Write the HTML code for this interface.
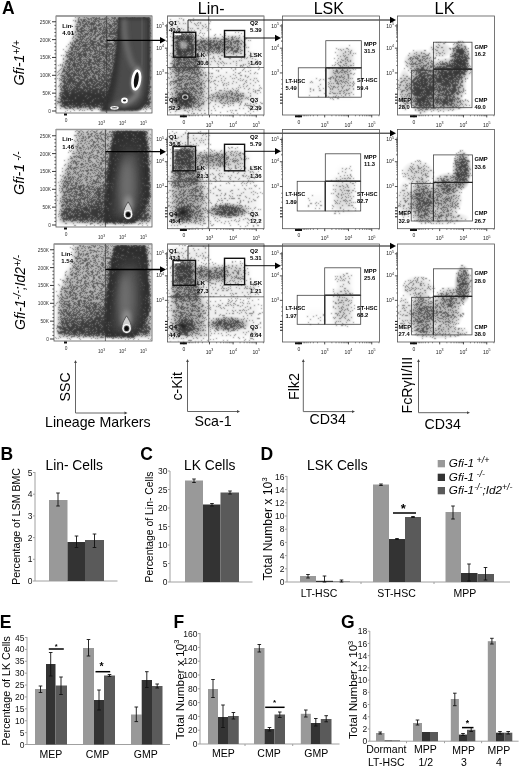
<!DOCTYPE html><html><head><meta charset="utf-8"><style>html,body{margin:0;padding:0;background:#fff;}svg{display:block;}</style></head><body><svg width="520" height="768" viewBox="0 0 520 768" font-family="'Liberation Sans', Arial, sans-serif">
<rect width="520" height="768" fill="#fff"/>
<defs>
<radialGradient id="rg"><stop offset="0" stop-opacity="1"/><stop offset="0.45" stop-opacity="0.9"/><stop offset="0.7" stop-opacity="0.6"/><stop offset="0.88" stop-opacity="0.25"/><stop offset="1" stop-opacity="0"/></radialGradient>
<radialGradient id="rgf"><stop offset="0" stop-opacity="1"/><stop offset="0.6" stop-opacity="0.9"/><stop offset="0.85" stop-opacity="0.4"/><stop offset="1" stop-opacity="0"/></radialGradient>
<filter id="sp" x="0" y="0" width="520" height="360" filterUnits="userSpaceOnUse" color-interpolation-filters="sRGB">
  <feTurbulence type="fractalNoise" baseFrequency="1.4" numOctaves="1" seed="7" result="t"/>
  <feColorMatrix in="t" type="matrix" values="0 0 0 0 0  0 0 0 0 0  0 0 0 0 0  3 0 0 0 -1" result="n"/>
  <feComposite in="SourceAlpha" in2="n" operator="arithmetic" k1="0" k2="1" k3="-1" k4="0.49" result="d"/>
  <feColorMatrix in="d" type="matrix" values="0 0 0 0 0  0 0 0 0 0  0 0 0 0 0  0 0 0 1 0" result="d2"/>
  <feComponentTransfer in="d2" result="d3"><feFuncA type="discrete" tableValues="0 0.56"/></feComponentTransfer>
  <feColorMatrix in="SourceAlpha" type="matrix" values="0 0 0 0 0  0 0 0 0 0  0 0 0 0 0  0 0 0 0.6 0" result="sm"/>
  <feMerge result="m"><feMergeNode in="sm"/><feMergeNode in="d3"/></feMerge>
  <feConvolveMatrix in="m" order="3" kernelMatrix="1 2 1 2 10 2 1 2 1" divisor="22" edgeMode="none"/>
</filter>
<filter id="b0" x="-50%" y="-50%" width="200%" height="200%"><feGaussianBlur stdDeviation="0.5"/></filter>
<filter id="b1" x="-50%" y="-50%" width="200%" height="200%"><feGaussianBlur stdDeviation="1"/></filter>
<filter id="b2" x="-50%" y="-50%" width="200%" height="200%"><feGaussianBlur stdDeviation="2"/></filter>
<filter id="b3" x="-50%" y="-50%" width="200%" height="200%"><feGaussianBlur stdDeviation="3.5"/></filter>
<linearGradient id="lgv" x1="0" y1="0" x2="0" y2="1"><stop offset="0" stop-opacity="0.54"/><stop offset="0.5" stop-opacity="0.6"/><stop offset="0.75" stop-opacity="0.68"/><stop offset="0.88" stop-opacity="0.9"/><stop offset="1" stop-opacity="0.88"/></linearGradient>
<linearGradient id="lgv2" x1="0" y1="0" x2="0" y2="1"><stop offset="0" stop-opacity="0.38"/><stop offset="0.5" stop-opacity="0.45"/><stop offset="0.8" stop-opacity="0.58"/><stop offset="1" stop-opacity="0.75"/></linearGradient>
<linearGradient id="lgd" x1="0" y1="0" x2="0" y2="1"><stop offset="0" stop-color="#2a2a2a"/><stop offset="0.5" stop-color="#3a3a3a"/><stop offset="1" stop-color="#444"/></linearGradient>
</defs>
<clipPath id="c1"><rect x="56.5" y="16.8" width="95" height="95.7"/></clipPath><g clip-path="url(#c1)">
<g filter="url(#sp)">
<path d="M77,16 L151,16 L151,107.5 L60,107.5 L61,72 L67,52 L74,37 Z" fill="url(#lgv)" filter="url(#b2)"/>
<ellipse cx="86" cy="101" rx="34" ry="10" fill="url(#rg)" fill-opacity="0.5"/>
</g>
<path d="M118,17 L150.5,17 L150.5,74 C149,96 146,107 138,111 L100,111.5 C106,99 115,78 118,17 Z" fill="#333" filter="url(#b1)"/>
<path d="M122,19 L147,19 L147,76 C146,96 142,105 134,107 L110,108 C114,97 120,78 122,19 Z" fill="#4c4c4c" filter="url(#b2)"/>
<path d="M124,19 C124,41 128,56 134,68" stroke="#6c6c6c" stroke-width="5" fill="none" filter="url(#b2)"/>
<path d="M142,19 C142,36 143,51 142,66" stroke="#5a5a5a" stroke-width="4" fill="none" filter="url(#b2)"/>
<path d="M137,66 C138,76 139,84 137,94 C134,100 128,102 122,105" stroke="#808080" stroke-width="5" fill="none" filter="url(#b2)"/>
<path d="M110,108 C115,106 120,104 126,99" stroke="#6a6a6a" stroke-width="4" fill="none" filter="url(#b2)"/>
<ellipse cx="136.3" cy="80" rx="5.6" ry="12.5" fill="#888" filter="url(#b1)" transform="rotate(8 136.3 80)"/>
<ellipse cx="136.3" cy="80" rx="3.6" ry="9.4" fill="#111" stroke="#fff" stroke-width="2.6" transform="rotate(8 136.3 80)"/>
<ellipse cx="124.5" cy="100.5" rx="2.5" ry="2" fill="#222" stroke="#fff" stroke-width="1.8"/>
<ellipse cx="114.5" cy="107.8" rx="3.6" ry="1.2" fill="#333" stroke="#f4f4f4" stroke-width="1.4"/>
</g>
<rect x="56" y="16" width="96" height="97" fill="none" stroke="#555" stroke-width="0.8"/>
<line x1="56" y1="16" x2="152" y2="16" stroke="#999" stroke-width="1.6"/>
<line x1="106.7" y1="16" x2="106.7" y2="113" stroke="#333" stroke-width="0.7"/>
<line x1="106.7" y1="40.3" x2="161" y2="40.3" stroke="#000" stroke-width="1.3"/>
<path d="M160,37.099999999999994 L166,40.3 L160,43.5 Z" fill="#000"/>
<text x="62.3" y="27.5" font-size="6" font-weight="bold">Lin-</text>
<text x="62.3" y="35.3" font-size="6" font-weight="bold">4.01</text>
<line x1="52" y1="111.0" x2="56" y2="111.0" stroke="#222" stroke-width="0.9"/>
<text x="51" y="112.9" font-size="4.8" text-anchor="end" fill="#333">0</text>
<line x1="54.4" y1="107.43" x2="56" y2="107.43" stroke="#333" stroke-width="0.8"/>
<line x1="54.4" y1="103.86" x2="56" y2="103.86" stroke="#333" stroke-width="0.8"/>
<line x1="54.4" y1="100.28999999999999" x2="56" y2="100.28999999999999" stroke="#333" stroke-width="0.8"/>
<line x1="54.4" y1="96.72" x2="56" y2="96.72" stroke="#333" stroke-width="0.8"/>
<line x1="52" y1="93.15" x2="56" y2="93.15" stroke="#222" stroke-width="0.9"/>
<text x="51" y="95.05000000000001" font-size="4.8" text-anchor="end" fill="#333">50K</text>
<line x1="54.4" y1="89.58000000000001" x2="56" y2="89.58000000000001" stroke="#333" stroke-width="0.8"/>
<line x1="54.4" y1="86.01" x2="56" y2="86.01" stroke="#333" stroke-width="0.8"/>
<line x1="54.4" y1="82.44" x2="56" y2="82.44" stroke="#333" stroke-width="0.8"/>
<line x1="54.4" y1="78.87" x2="56" y2="78.87" stroke="#333" stroke-width="0.8"/>
<line x1="52" y1="75.3" x2="56" y2="75.3" stroke="#222" stroke-width="0.9"/>
<text x="51" y="77.2" font-size="4.8" text-anchor="end" fill="#333">100K</text>
<line x1="54.4" y1="71.72999999999999" x2="56" y2="71.72999999999999" stroke="#333" stroke-width="0.8"/>
<line x1="54.4" y1="68.16" x2="56" y2="68.16" stroke="#333" stroke-width="0.8"/>
<line x1="54.4" y1="64.59" x2="56" y2="64.59" stroke="#333" stroke-width="0.8"/>
<line x1="54.4" y1="61.019999999999996" x2="56" y2="61.019999999999996" stroke="#333" stroke-width="0.8"/>
<line x1="52" y1="57.449999999999996" x2="56" y2="57.449999999999996" stroke="#222" stroke-width="0.9"/>
<text x="51" y="59.349999999999994" font-size="4.8" text-anchor="end" fill="#333">150K</text>
<line x1="54.4" y1="53.879999999999995" x2="56" y2="53.879999999999995" stroke="#333" stroke-width="0.8"/>
<line x1="54.4" y1="50.309999999999995" x2="56" y2="50.309999999999995" stroke="#333" stroke-width="0.8"/>
<line x1="54.4" y1="46.739999999999995" x2="56" y2="46.739999999999995" stroke="#333" stroke-width="0.8"/>
<line x1="54.4" y1="43.169999999999995" x2="56" y2="43.169999999999995" stroke="#333" stroke-width="0.8"/>
<line x1="52" y1="39.599999999999994" x2="56" y2="39.599999999999994" stroke="#222" stroke-width="0.9"/>
<text x="51" y="41.49999999999999" font-size="4.8" text-anchor="end" fill="#333">200K</text>
<line x1="54.4" y1="36.029999999999994" x2="56" y2="36.029999999999994" stroke="#333" stroke-width="0.8"/>
<line x1="54.4" y1="32.459999999999994" x2="56" y2="32.459999999999994" stroke="#333" stroke-width="0.8"/>
<line x1="54.4" y1="28.889999999999993" x2="56" y2="28.889999999999993" stroke="#333" stroke-width="0.8"/>
<line x1="54.4" y1="25.319999999999993" x2="56" y2="25.319999999999993" stroke="#333" stroke-width="0.8"/>
<line x1="52" y1="21.75" x2="56" y2="21.75" stroke="#222" stroke-width="0.9"/>
<text x="51" y="23.65" font-size="4.8" text-anchor="end" fill="#333">250K</text>
<text x="66" y="122" font-size="4.8" text-anchor="middle" fill="#333">0</text>
<text x="101.5" y="125" font-size="4.8" text-anchor="middle" fill="#333">10<tspan font-size="3.4" dy="-2.2">3</tspan></text>
<text x="122.5" y="125" font-size="4.8" text-anchor="middle" fill="#333">10<tspan font-size="3.4" dy="-2.2">4</tspan></text>
<text x="143.5" y="125" font-size="4.8" text-anchor="middle" fill="#333">10<tspan font-size="3.4" dy="-2.2">5</tspan></text>
<rect x="64" y="113.5" width="3" height="2" fill="#111"/>
<clipPath id="c2"><rect x="168.0" y="16.8" width="95.5" height="97.7"/></clipPath><g clip-path="url(#c2)">
<g filter="url(#sp)">
<rect x="174.5" y="33.3" width="20.19999999999999" height="22.900000000000006" fill-opacity="0.8" filter="url(#b2)"/>
<rect x="196" y="38.75" width="30" height="14" fill-opacity="0.6" filter="url(#b2)"/>
<rect x="225.5" y="36.75" width="16" height="17" fill-opacity="0.5" filter="url(#b2)"/>
<rect x="238.5" y="39.75" width="10" height="12" fill-opacity="0.15" filter="url(#b2)"/>
<rect x="172" y="55.2" width="28" height="16.299999999999997" fill-opacity="0.6" filter="url(#b2)"/>
<rect x="172" y="69.5" width="32" height="39.5" fill-opacity="0.52" filter="url(#b3)"/>
<ellipse cx="184.5" cy="100" rx="11" ry="10" fill="url(#rg)" fill-opacity="0.75"/>
<ellipse cx="228" cy="97" rx="22" ry="8" fill="url(#rg)" fill-opacity="0.4"/>
<rect x="204" y="71.5" width="54" height="37.5" fill-opacity="0.1" filter="url(#b3)"/>
<rect x="170" y="20" width="38" height="12.299999999999997" fill-opacity="0.12" filter="url(#b2)"/>
<rect x="196" y="53.2" width="60" height="14.299999999999997" fill-opacity="0.12" filter="url(#b2)"/>
</g>
</g>
<g filter="url(#b0)"><ellipse cx="185.2" cy="97" rx="4.8" ry="4.2" fill="#3a3a3a"/>
<ellipse cx="185.2" cy="97" rx="3.3" ry="2.8" fill="#b8b8b8"/>
<ellipse cx="185.2" cy="97.2" rx="1.9" ry="1.6" fill="#2a2a2a"/></g>
<ellipse cx="183.5" cy="45" rx="4" ry="4" fill="#c8c8c8" opacity="0.7" filter="url(#b1)"/>
<rect x="174.5" y="33.6" width="6.5" height="1.6" fill="#fff"/>
<rect x="167.5" y="16" width="96.5" height="99" fill="none" stroke="#555" stroke-width="0.8"/>
<line x1="167.5" y1="16" x2="264" y2="16" stroke="#999" stroke-width="1.2"/>
<line x1="208.7" y1="16" x2="208.7" y2="115" stroke="#444" stroke-width="0.7"/>
<line x1="167.5" y1="67.5" x2="264" y2="67.5" stroke="#444" stroke-width="0.7"/>
<rect x="173.5" y="32.3" width="22.19999999999999" height="24.900000000000006" fill="none" stroke="#111" stroke-width="1.4"/>
<rect x="224.5" y="30.5" width="20.099999999999994" height="26.5" fill="none" stroke="#111" stroke-width="1.4"/>
<line x1="188" y1="32.3" x2="188" y2="20" stroke="#222" stroke-width="0.9"/>
<line x1="188" y1="20" x2="391" y2="20" stroke="#111" stroke-width="1.0"/>
<path d="M390,16.8 L396,20 L390,23.2 Z" fill="#000"/>
<line x1="244.6" y1="38" x2="276" y2="38" stroke="#111" stroke-width="1.0"/>
<path d="M275,34.8 L281,38 L275,41.2 Z" fill="#000"/>
<text x="169" y="25" font-size="6" font-weight="bold">Q1</text>
<text x="169" y="32" font-size="6" font-weight="bold">40.0</text>
<text x="197" y="56.7" font-size="6" font-weight="bold">LK</text>
<text x="197" y="64.7" font-size="6" font-weight="bold">30.6</text>
<text x="250" y="25" font-size="6" font-weight="bold">Q2</text>
<text x="250" y="32" font-size="6" font-weight="bold">5.39</text>
<text x="250" y="56.7" font-size="6" font-weight="bold">LSK</text>
<text x="250" y="64.7" font-size="6" font-weight="bold">1.60</text>
<text x="169" y="102" font-size="6" font-weight="bold">Q4</text>
<text x="169" y="109.5" font-size="6" font-weight="bold">52.2</text>
<text x="250" y="102" font-size="6" font-weight="bold">Q3</text>
<text x="250" y="109.5" font-size="6" font-weight="bold">2.39</text>
<line x1="164.9" y1="25.9" x2="167.5" y2="25.9" stroke="#222" stroke-width="0.8"/>
<text x="163.9" y="27.5" font-size="5.1" text-anchor="end" fill="#222">10<tspan font-size="3.6" dy="-2.4">5</tspan></text>
<line x1="164.9" y1="48.175000000000004" x2="167.5" y2="48.175000000000004" stroke="#222" stroke-width="0.8"/>
<text x="163.9" y="49.775000000000006" font-size="5.1" text-anchor="end" fill="#222">10<tspan font-size="3.6" dy="-2.4">4</tspan></text>
<line x1="164.9" y1="72.925" x2="167.5" y2="72.925" stroke="#222" stroke-width="0.8"/>
<text x="163.9" y="74.52499999999999" font-size="5.1" text-anchor="end" fill="#222">10<tspan font-size="3.6" dy="-2.4">3</tspan></text>
<line x1="166.1" y1="41.46955684658482" x2="167.5" y2="41.46955684658482" stroke="#444" stroke-width="0.6"/>
<line x1="166.1" y1="37.547124051119525" x2="167.5" y2="37.547124051119525" stroke="#444" stroke-width="0.6"/>
<line x1="166.1" y1="34.76411369316964" x2="167.5" y2="34.76411369316964" stroke="#444" stroke-width="0.6"/>
<line x1="166.1" y1="32.60544315341518" x2="167.5" y2="32.60544315341518" stroke="#444" stroke-width="0.6"/>
<line x1="166.1" y1="30.84168089770434" x2="167.5" y2="30.84168089770434" stroke="#444" stroke-width="0.6"/>
<line x1="166.1" y1="29.35044115868243" x2="167.5" y2="29.35044115868243" stroke="#444" stroke-width="0.6"/>
<line x1="166.1" y1="28.058670539754456" x2="167.5" y2="28.058670539754456" stroke="#444" stroke-width="0.6"/>
<line x1="166.1" y1="26.919248102239038" x2="167.5" y2="26.919248102239038" stroke="#444" stroke-width="0.6"/>
<line x1="166.1" y1="65.47450760731647" x2="167.5" y2="65.47450760731647" stroke="#444" stroke-width="0.6"/>
<line x1="166.1" y1="61.116248945688355" x2="167.5" y2="61.116248945688355" stroke="#444" stroke-width="0.6"/>
<line x1="166.1" y1="58.02401521463293" x2="167.5" y2="58.02401521463293" stroke="#444" stroke-width="0.6"/>
<line x1="166.1" y1="55.62549239268354" x2="167.5" y2="55.62549239268354" stroke="#444" stroke-width="0.6"/>
<line x1="166.1" y1="53.665756553004826" x2="167.5" y2="53.665756553004826" stroke="#444" stroke-width="0.6"/>
<line x1="166.1" y1="52.008823509647144" x2="167.5" y2="52.008823509647144" stroke="#444" stroke-width="0.6"/>
<line x1="166.1" y1="50.573522821949396" x2="167.5" y2="50.573522821949396" stroke="#444" stroke-width="0.6"/>
<line x1="166.1" y1="49.30749789137671" x2="167.5" y2="49.30749789137671" stroke="#444" stroke-width="0.6"/>
<line x1="166.1" y1="40.72450760731647" x2="167.5" y2="40.72450760731647" stroke="#444" stroke-width="0.6"/>
<line x1="166.1" y1="36.36624894568836" x2="167.5" y2="36.36624894568836" stroke="#444" stroke-width="0.6"/>
<line x1="166.1" y1="33.27401521463294" x2="167.5" y2="33.27401521463294" stroke="#444" stroke-width="0.6"/>
<line x1="166.1" y1="30.875492392683544" x2="167.5" y2="30.875492392683544" stroke="#444" stroke-width="0.6"/>
<line x1="166.1" y1="28.91575655300483" x2="167.5" y2="28.91575655300483" stroke="#444" stroke-width="0.6"/>
<line x1="166.1" y1="27.258823509647154" x2="167.5" y2="27.258823509647154" stroke="#444" stroke-width="0.6"/>
<line x1="166.1" y1="25.823522821949407" x2="167.5" y2="25.823522821949407" stroke="#444" stroke-width="0.6"/>
<line x1="166.1" y1="24.55749789137672" x2="167.5" y2="24.55749789137672" stroke="#444" stroke-width="0.6"/>
<line x1="166.1" y1="79.6075" x2="167.5" y2="79.6075" stroke="#444" stroke-width="0.6"/>
<line x1="166.1" y1="84.0625" x2="167.5" y2="84.0625" stroke="#444" stroke-width="0.6"/>
<line x1="166.1" y1="88.51749999999998" x2="167.5" y2="88.51749999999998" stroke="#444" stroke-width="0.6"/>
<line x1="165.0" y1="94.21000000000001" x2="167.5" y2="94.21000000000001" stroke="#111" stroke-width="1.0"/>
<line x1="165.0" y1="97.17999999999999" x2="167.5" y2="97.17999999999999" stroke="#111" stroke-width="1.0"/>
<line x1="165.0" y1="100.14999999999999" x2="167.5" y2="100.14999999999999" stroke="#111" stroke-width="1.0"/>
<line x1="165.0" y1="103.12" x2="167.5" y2="103.12" stroke="#111" stroke-width="1.0"/>
<line x1="183.905" y1="115" x2="183.905" y2="117.4" stroke="#222" stroke-width="0.8"/>
<text x="183.905" y="123.5" font-size="5" text-anchor="middle" fill="#222">0</text>
<line x1="209.4775" y1="115" x2="209.4775" y2="117.4" stroke="#222" stroke-width="0.8"/>
<text x="209.4775" y="126.5" font-size="5.1" text-anchor="middle" fill="#222">10<tspan font-size="3.6" dy="-2.4">3</tspan></text>
<line x1="233.12" y1="115" x2="233.12" y2="117.4" stroke="#222" stroke-width="0.8"/>
<text x="233.12" y="126.5" font-size="5.1" text-anchor="middle" fill="#222">10<tspan font-size="3.6" dy="-2.4">4</tspan></text>
<line x1="256.28" y1="115" x2="256.28" y2="117.4" stroke="#222" stroke-width="0.8"/>
<text x="256.28" y="126.5" font-size="5.1" text-anchor="middle" fill="#222">10<tspan font-size="3.6" dy="-2.4">5</tspan></text>
<rect x="179.905" y="115.3" width="7" height="2" fill="#111"/>
<line x1="216.59460167248568" y1="115" x2="216.59460167248568" y2="116.3" stroke="#444" stroke-width="0.6"/>
<line x1="220.75783926470962" y1="115" x2="220.75783926470962" y2="116.3" stroke="#444" stroke-width="0.6"/>
<line x1="223.71170334497134" y1="115" x2="223.71170334497134" y2="116.3" stroke="#444" stroke-width="0.6"/>
<line x1="226.00289832751432" y1="115" x2="226.00289832751432" y2="116.3" stroke="#444" stroke-width="0.6"/>
<line x1="227.8749409371953" y1="115" x2="227.8749409371953" y2="116.3" stroke="#444" stroke-width="0.6"/>
<line x1="229.45773041103706" y1="115" x2="229.45773041103706" y2="116.3" stroke="#444" stroke-width="0.6"/>
<line x1="230.82880501745703" y1="115" x2="230.82880501745703" y2="116.3" stroke="#444" stroke-width="0.6"/>
<line x1="232.03817852941924" y1="115" x2="232.03817852941924" y2="116.3" stroke="#444" stroke-width="0.6"/>
<line x1="240.0918546995778" y1="115" x2="240.0918546995778" y2="116.3" stroke="#444" stroke-width="0.6"/>
<line x1="244.17012825930738" y1="115" x2="244.17012825930738" y2="116.3" stroke="#444" stroke-width="0.6"/>
<line x1="247.06370939915558" y1="115" x2="247.06370939915558" y2="116.3" stroke="#444" stroke-width="0.6"/>
<line x1="249.30814530042218" y1="115" x2="249.30814530042218" y2="116.3" stroke="#444" stroke-width="0.6"/>
<line x1="251.14198295888517" y1="115" x2="251.14198295888517" y2="116.3" stroke="#444" stroke-width="0.6"/>
<line x1="252.69247060673015" y1="115" x2="252.69247060673015" y2="116.3" stroke="#444" stroke-width="0.6"/>
<line x1="254.0355640987334" y1="115" x2="254.0355640987334" y2="116.3" stroke="#444" stroke-width="0.6"/>
<line x1="255.22025651861475" y1="115" x2="255.22025651861475" y2="116.3" stroke="#444" stroke-width="0.6"/>
<line x1="202.3603983275143" y1="115" x2="202.3603983275143" y2="116.3" stroke="#444" stroke-width="0.6"/>
<line x1="198.19716073529037" y1="115" x2="198.19716073529037" y2="116.3" stroke="#444" stroke-width="0.6"/>
<line x1="195.24329665502864" y1="115" x2="195.24329665502864" y2="116.3" stroke="#444" stroke-width="0.6"/>
<line x1="192.95210167248567" y1="115" x2="192.95210167248567" y2="116.3" stroke="#444" stroke-width="0.6"/>
<line x1="191.08005906280468" y1="115" x2="191.08005906280468" y2="116.3" stroke="#444" stroke-width="0.6"/>
<line x1="189.49726958896292" y1="115" x2="189.49726958896292" y2="116.3" stroke="#444" stroke-width="0.6"/>
<line x1="188.12619498254296" y1="115" x2="188.12619498254296" y2="116.3" stroke="#444" stroke-width="0.6"/>
<line x1="263.39710167248563" y1="115" x2="263.39710167248563" y2="116.3" stroke="#444" stroke-width="0.6"/>
<clipPath id="c3"><rect x="283.0" y="16.8" width="96.0" height="97.7"/></clipPath><g clip-path="url(#c3)">
<g filter="url(#sp)">
<rect x="338" y="49" width="15" height="19" fill-opacity="0.21" filter="url(#b2)"/>
<rect x="343" y="55" width="8" height="14" fill-opacity="0.105" filter="url(#b2)"/>
<rect x="329" y="68" width="23" height="28" fill-opacity="0.27" filter="url(#b2)"/>
<rect x="334" y="67" width="15" height="14" fill-opacity="0.126" filter="url(#b2)"/>
<rect x="309" y="80" width="16" height="16" fill-opacity="0.056" filter="url(#b2)"/>
</g>
</g>
<rect x="282.5" y="16" width="97.0" height="99" fill="none" stroke="#555" stroke-width="0.8"/>
<rect x="325.8" y="40.7" width="35.5" height="27.099999999999994" fill="none" stroke="#444" stroke-width="0.8"/>
<rect x="298.3" y="67.8" width="27.5" height="29.400000000000006" fill="none" stroke="#444" stroke-width="0.8"/>
<rect x="325.8" y="67.8" width="35.5" height="29.400000000000006" fill="none" stroke="#444" stroke-width="0.8"/>
<line x1="325.8" y1="67.8" x2="325.8" y2="97.2" stroke="#333" stroke-width="1.4"/>
<line x1="325.8" y1="67.8" x2="361.3" y2="67.8" stroke="#333" stroke-width="1.4"/>
<text x="364" y="45.7" font-size="5.8" font-weight="bold">MPP</text>
<text x="364" y="53.2" font-size="5.8" font-weight="bold">31.5</text>
<text x="285.5" y="82.8" font-size="5.6" font-weight="bold">LT-HSC</text>
<text x="285.5" y="90.3" font-size="5.8" font-weight="bold">5.49</text>
<text x="357" y="82.3" font-size="5.6" font-weight="bold">ST-HSC</text>
<text x="357" y="89.8" font-size="5.8" font-weight="bold">59.4</text>
<line x1="279.9" y1="25.9" x2="282.5" y2="25.9" stroke="#222" stroke-width="0.8"/>
<text x="278.9" y="27.5" font-size="5.1" text-anchor="end" fill="#222">10<tspan font-size="3.6" dy="-2.4">5</tspan></text>
<line x1="279.9" y1="48.175000000000004" x2="282.5" y2="48.175000000000004" stroke="#222" stroke-width="0.8"/>
<text x="278.9" y="49.775000000000006" font-size="5.1" text-anchor="end" fill="#222">10<tspan font-size="3.6" dy="-2.4">4</tspan></text>
<line x1="279.9" y1="72.925" x2="282.5" y2="72.925" stroke="#222" stroke-width="0.8"/>
<text x="278.9" y="74.52499999999999" font-size="5.1" text-anchor="end" fill="#222">10<tspan font-size="3.6" dy="-2.4">3</tspan></text>
<line x1="281.1" y1="41.46955684658482" x2="282.5" y2="41.46955684658482" stroke="#444" stroke-width="0.6"/>
<line x1="281.1" y1="37.547124051119525" x2="282.5" y2="37.547124051119525" stroke="#444" stroke-width="0.6"/>
<line x1="281.1" y1="34.76411369316964" x2="282.5" y2="34.76411369316964" stroke="#444" stroke-width="0.6"/>
<line x1="281.1" y1="32.60544315341518" x2="282.5" y2="32.60544315341518" stroke="#444" stroke-width="0.6"/>
<line x1="281.1" y1="30.84168089770434" x2="282.5" y2="30.84168089770434" stroke="#444" stroke-width="0.6"/>
<line x1="281.1" y1="29.35044115868243" x2="282.5" y2="29.35044115868243" stroke="#444" stroke-width="0.6"/>
<line x1="281.1" y1="28.058670539754456" x2="282.5" y2="28.058670539754456" stroke="#444" stroke-width="0.6"/>
<line x1="281.1" y1="26.919248102239038" x2="282.5" y2="26.919248102239038" stroke="#444" stroke-width="0.6"/>
<line x1="281.1" y1="65.47450760731647" x2="282.5" y2="65.47450760731647" stroke="#444" stroke-width="0.6"/>
<line x1="281.1" y1="61.116248945688355" x2="282.5" y2="61.116248945688355" stroke="#444" stroke-width="0.6"/>
<line x1="281.1" y1="58.02401521463293" x2="282.5" y2="58.02401521463293" stroke="#444" stroke-width="0.6"/>
<line x1="281.1" y1="55.62549239268354" x2="282.5" y2="55.62549239268354" stroke="#444" stroke-width="0.6"/>
<line x1="281.1" y1="53.665756553004826" x2="282.5" y2="53.665756553004826" stroke="#444" stroke-width="0.6"/>
<line x1="281.1" y1="52.008823509647144" x2="282.5" y2="52.008823509647144" stroke="#444" stroke-width="0.6"/>
<line x1="281.1" y1="50.573522821949396" x2="282.5" y2="50.573522821949396" stroke="#444" stroke-width="0.6"/>
<line x1="281.1" y1="49.30749789137671" x2="282.5" y2="49.30749789137671" stroke="#444" stroke-width="0.6"/>
<line x1="281.1" y1="40.72450760731647" x2="282.5" y2="40.72450760731647" stroke="#444" stroke-width="0.6"/>
<line x1="281.1" y1="36.36624894568836" x2="282.5" y2="36.36624894568836" stroke="#444" stroke-width="0.6"/>
<line x1="281.1" y1="33.27401521463294" x2="282.5" y2="33.27401521463294" stroke="#444" stroke-width="0.6"/>
<line x1="281.1" y1="30.875492392683544" x2="282.5" y2="30.875492392683544" stroke="#444" stroke-width="0.6"/>
<line x1="281.1" y1="28.91575655300483" x2="282.5" y2="28.91575655300483" stroke="#444" stroke-width="0.6"/>
<line x1="281.1" y1="27.258823509647154" x2="282.5" y2="27.258823509647154" stroke="#444" stroke-width="0.6"/>
<line x1="281.1" y1="25.823522821949407" x2="282.5" y2="25.823522821949407" stroke="#444" stroke-width="0.6"/>
<line x1="281.1" y1="24.55749789137672" x2="282.5" y2="24.55749789137672" stroke="#444" stroke-width="0.6"/>
<line x1="281.1" y1="79.6075" x2="282.5" y2="79.6075" stroke="#444" stroke-width="0.6"/>
<line x1="281.1" y1="84.0625" x2="282.5" y2="84.0625" stroke="#444" stroke-width="0.6"/>
<line x1="281.1" y1="88.51749999999998" x2="282.5" y2="88.51749999999998" stroke="#444" stroke-width="0.6"/>
<line x1="280.0" y1="94.21000000000001" x2="282.5" y2="94.21000000000001" stroke="#111" stroke-width="1.0"/>
<line x1="280.0" y1="97.17999999999999" x2="282.5" y2="97.17999999999999" stroke="#111" stroke-width="1.0"/>
<line x1="280.0" y1="100.14999999999999" x2="282.5" y2="100.14999999999999" stroke="#111" stroke-width="1.0"/>
<line x1="280.0" y1="103.12" x2="282.5" y2="103.12" stroke="#111" stroke-width="1.0"/>
<line x1="298.99" y1="115" x2="298.99" y2="117.4" stroke="#222" stroke-width="0.8"/>
<text x="298.99" y="123.5" font-size="5" text-anchor="middle" fill="#222">0</text>
<line x1="324.695" y1="115" x2="324.695" y2="117.4" stroke="#222" stroke-width="0.8"/>
<text x="324.695" y="126.5" font-size="5.1" text-anchor="middle" fill="#222">10<tspan font-size="3.6" dy="-2.4">3</tspan></text>
<line x1="348.46000000000004" y1="115" x2="348.46000000000004" y2="117.4" stroke="#222" stroke-width="0.8"/>
<text x="348.46000000000004" y="126.5" font-size="5.1" text-anchor="middle" fill="#222">10<tspan font-size="3.6" dy="-2.4">4</tspan></text>
<line x1="371.74" y1="115" x2="371.74" y2="117.4" stroke="#222" stroke-width="0.8"/>
<text x="371.74" y="126.5" font-size="5.1" text-anchor="middle" fill="#222">10<tspan font-size="3.6" dy="-2.4">5</tspan></text>
<rect x="294.99" y="115.3" width="7" height="2" fill="#111"/>
<line x1="331.84897784695454" y1="115" x2="331.84897784695454" y2="116.3" stroke="#444" stroke-width="0.6"/>
<line x1="336.0337866184128" y1="115" x2="336.0337866184128" y2="116.3" stroke="#444" stroke-width="0.6"/>
<line x1="339.00295569390903" y1="115" x2="339.00295569390903" y2="116.3" stroke="#444" stroke-width="0.6"/>
<line x1="341.3060221530455" y1="115" x2="341.3060221530455" y2="116.3" stroke="#444" stroke-width="0.6"/>
<line x1="343.1877644653673" y1="115" x2="343.1877644653673" y2="116.3" stroke="#444" stroke-width="0.6"/>
<line x1="344.77875492093887" y1="115" x2="344.77875492093887" y2="116.3" stroke="#444" stroke-width="0.6"/>
<line x1="346.1569335408636" y1="115" x2="346.1569335408636" y2="116.3" stroke="#444" stroke-width="0.6"/>
<line x1="347.3725732368256" y1="115" x2="347.3725732368256" y2="116.3" stroke="#444" stroke-width="0.6"/>
<line x1="355.4679782990575" y1="115" x2="355.4679782990575" y2="116.3" stroke="#444" stroke-width="0.6"/>
<line x1="359.5673828098738" y1="115" x2="359.5673828098738" y2="116.3" stroke="#444" stroke-width="0.6"/>
<line x1="362.475956598115" y1="115" x2="362.475956598115" y2="116.3" stroke="#444" stroke-width="0.6"/>
<line x1="364.73202170094254" y1="115" x2="364.73202170094254" y2="116.3" stroke="#444" stroke-width="0.6"/>
<line x1="366.57536110893125" y1="115" x2="366.57536110893125" y2="116.3" stroke="#444" stroke-width="0.6"/>
<line x1="368.1338823715319" y1="115" x2="368.1338823715319" y2="116.3" stroke="#444" stroke-width="0.6"/>
<line x1="369.48393489717245" y1="115" x2="369.48393489717245" y2="116.3" stroke="#444" stroke-width="0.6"/>
<line x1="370.6747656197475" y1="115" x2="370.6747656197475" y2="116.3" stroke="#444" stroke-width="0.6"/>
<line x1="317.54102215304545" y1="115" x2="317.54102215304545" y2="116.3" stroke="#444" stroke-width="0.6"/>
<line x1="313.35621338158717" y1="115" x2="313.35621338158717" y2="116.3" stroke="#444" stroke-width="0.6"/>
<line x1="310.38704430609096" y1="115" x2="310.38704430609096" y2="116.3" stroke="#444" stroke-width="0.6"/>
<line x1="308.0839778469545" y1="115" x2="308.0839778469545" y2="116.3" stroke="#444" stroke-width="0.6"/>
<line x1="306.2022355346327" y1="115" x2="306.2022355346327" y2="116.3" stroke="#444" stroke-width="0.6"/>
<line x1="304.6112450790611" y1="115" x2="304.6112450790611" y2="116.3" stroke="#444" stroke-width="0.6"/>
<line x1="303.2330664591364" y1="115" x2="303.2330664591364" y2="116.3" stroke="#444" stroke-width="0.6"/>
<line x1="378.89397784695456" y1="115" x2="378.89397784695456" y2="116.3" stroke="#444" stroke-width="0.6"/>
<clipPath id="c4"><rect x="398.0" y="16.8" width="96.0" height="97.7"/></clipPath><g clip-path="url(#c4)">
<g filter="url(#sp)">
<ellipse cx="422" cy="89" rx="15" ry="26" fill="url(#rg)" fill-opacity="0.828"/>
<ellipse cx="446" cy="86" rx="21" ry="24" fill="url(#rg)" fill-opacity="0.713"/>
<ellipse cx="460" cy="60" rx="11" ry="20" fill="url(#rg)" fill-opacity="0.828"/>
<ellipse cx="449" cy="71" rx="24" ry="14" fill="url(#rg)" fill-opacity="0.575"/>
<ellipse cx="420" cy="62" rx="17" ry="13" fill="url(#rg)" fill-opacity="0.437"/>
<ellipse cx="440" cy="104" rx="32" ry="8" fill="url(#rg)" fill-opacity="0.46"/>
<ellipse cx="405" cy="90" rx="8" ry="22" fill="url(#rg)" fill-opacity="0.345"/>
<ellipse cx="440" cy="50" rx="12" ry="9" fill="url(#rg)" fill-opacity="0.23"/>
</g>
</g>
<rect x="397.5" y="16" width="97.0" height="99" fill="none" stroke="#555" stroke-width="0.8"/>
<rect x="433.4" y="42.2" width="38.60000000000002" height="27.0" fill="none" stroke="#444" stroke-width="0.8"/>
<rect x="411.6" y="70.2" width="21.799999999999955" height="37.5" fill="none" stroke="#444" stroke-width="0.8"/>
<rect x="433.4" y="69.2" width="38.60000000000002" height="38.5" fill="none" stroke="#444" stroke-width="0.8"/>
<line x1="433.4" y1="69.2" x2="472" y2="69.2" stroke="#222" stroke-width="1.3"/>
<line x1="433.4" y1="69.2" x2="433.4" y2="107.7" stroke="#333" stroke-width="1.2"/>
<text x="474.5" y="48.7" font-size="5.8" font-weight="bold">GMP</text>
<text x="474.5" y="56.2" font-size="5.8" font-weight="bold">16.2</text>
<text x="398.5" y="101.7" font-size="5.8" font-weight="bold">MEP</text>
<text x="398.5" y="109.2" font-size="5.8" font-weight="bold">28.0</text>
<text x="474.5" y="101.7" font-size="5.8" font-weight="bold">CMP</text>
<text x="474.5" y="109.2" font-size="5.8" font-weight="bold">49.0</text>
<line x1="394.9" y1="25.9" x2="397.5" y2="25.9" stroke="#222" stroke-width="0.8"/>
<text x="393.9" y="27.5" font-size="5.1" text-anchor="end" fill="#222">10<tspan font-size="3.6" dy="-2.4">5</tspan></text>
<line x1="394.9" y1="48.175000000000004" x2="397.5" y2="48.175000000000004" stroke="#222" stroke-width="0.8"/>
<text x="393.9" y="49.775000000000006" font-size="5.1" text-anchor="end" fill="#222">10<tspan font-size="3.6" dy="-2.4">4</tspan></text>
<line x1="394.9" y1="72.925" x2="397.5" y2="72.925" stroke="#222" stroke-width="0.8"/>
<text x="393.9" y="74.52499999999999" font-size="5.1" text-anchor="end" fill="#222">10<tspan font-size="3.6" dy="-2.4">3</tspan></text>
<line x1="396.1" y1="41.46955684658482" x2="397.5" y2="41.46955684658482" stroke="#444" stroke-width="0.6"/>
<line x1="396.1" y1="37.547124051119525" x2="397.5" y2="37.547124051119525" stroke="#444" stroke-width="0.6"/>
<line x1="396.1" y1="34.76411369316964" x2="397.5" y2="34.76411369316964" stroke="#444" stroke-width="0.6"/>
<line x1="396.1" y1="32.60544315341518" x2="397.5" y2="32.60544315341518" stroke="#444" stroke-width="0.6"/>
<line x1="396.1" y1="30.84168089770434" x2="397.5" y2="30.84168089770434" stroke="#444" stroke-width="0.6"/>
<line x1="396.1" y1="29.35044115868243" x2="397.5" y2="29.35044115868243" stroke="#444" stroke-width="0.6"/>
<line x1="396.1" y1="28.058670539754456" x2="397.5" y2="28.058670539754456" stroke="#444" stroke-width="0.6"/>
<line x1="396.1" y1="26.919248102239038" x2="397.5" y2="26.919248102239038" stroke="#444" stroke-width="0.6"/>
<line x1="396.1" y1="65.47450760731647" x2="397.5" y2="65.47450760731647" stroke="#444" stroke-width="0.6"/>
<line x1="396.1" y1="61.116248945688355" x2="397.5" y2="61.116248945688355" stroke="#444" stroke-width="0.6"/>
<line x1="396.1" y1="58.02401521463293" x2="397.5" y2="58.02401521463293" stroke="#444" stroke-width="0.6"/>
<line x1="396.1" y1="55.62549239268354" x2="397.5" y2="55.62549239268354" stroke="#444" stroke-width="0.6"/>
<line x1="396.1" y1="53.665756553004826" x2="397.5" y2="53.665756553004826" stroke="#444" stroke-width="0.6"/>
<line x1="396.1" y1="52.008823509647144" x2="397.5" y2="52.008823509647144" stroke="#444" stroke-width="0.6"/>
<line x1="396.1" y1="50.573522821949396" x2="397.5" y2="50.573522821949396" stroke="#444" stroke-width="0.6"/>
<line x1="396.1" y1="49.30749789137671" x2="397.5" y2="49.30749789137671" stroke="#444" stroke-width="0.6"/>
<line x1="396.1" y1="40.72450760731647" x2="397.5" y2="40.72450760731647" stroke="#444" stroke-width="0.6"/>
<line x1="396.1" y1="36.36624894568836" x2="397.5" y2="36.36624894568836" stroke="#444" stroke-width="0.6"/>
<line x1="396.1" y1="33.27401521463294" x2="397.5" y2="33.27401521463294" stroke="#444" stroke-width="0.6"/>
<line x1="396.1" y1="30.875492392683544" x2="397.5" y2="30.875492392683544" stroke="#444" stroke-width="0.6"/>
<line x1="396.1" y1="28.91575655300483" x2="397.5" y2="28.91575655300483" stroke="#444" stroke-width="0.6"/>
<line x1="396.1" y1="27.258823509647154" x2="397.5" y2="27.258823509647154" stroke="#444" stroke-width="0.6"/>
<line x1="396.1" y1="25.823522821949407" x2="397.5" y2="25.823522821949407" stroke="#444" stroke-width="0.6"/>
<line x1="396.1" y1="24.55749789137672" x2="397.5" y2="24.55749789137672" stroke="#444" stroke-width="0.6"/>
<line x1="396.1" y1="79.6075" x2="397.5" y2="79.6075" stroke="#444" stroke-width="0.6"/>
<line x1="396.1" y1="84.0625" x2="397.5" y2="84.0625" stroke="#444" stroke-width="0.6"/>
<line x1="396.1" y1="88.51749999999998" x2="397.5" y2="88.51749999999998" stroke="#444" stroke-width="0.6"/>
<line x1="395.0" y1="94.21000000000001" x2="397.5" y2="94.21000000000001" stroke="#111" stroke-width="1.0"/>
<line x1="395.0" y1="97.17999999999999" x2="397.5" y2="97.17999999999999" stroke="#111" stroke-width="1.0"/>
<line x1="395.0" y1="100.14999999999999" x2="397.5" y2="100.14999999999999" stroke="#111" stroke-width="1.0"/>
<line x1="395.0" y1="103.12" x2="397.5" y2="103.12" stroke="#111" stroke-width="1.0"/>
<line x1="413.99" y1="115" x2="413.99" y2="117.4" stroke="#222" stroke-width="0.8"/>
<text x="413.99" y="123.5" font-size="5" text-anchor="middle" fill="#222">0</text>
<line x1="439.695" y1="115" x2="439.695" y2="117.4" stroke="#222" stroke-width="0.8"/>
<text x="439.695" y="126.5" font-size="5.1" text-anchor="middle" fill="#222">10<tspan font-size="3.6" dy="-2.4">3</tspan></text>
<line x1="463.46000000000004" y1="115" x2="463.46000000000004" y2="117.4" stroke="#222" stroke-width="0.8"/>
<text x="463.46000000000004" y="126.5" font-size="5.1" text-anchor="middle" fill="#222">10<tspan font-size="3.6" dy="-2.4">4</tspan></text>
<line x1="486.74" y1="115" x2="486.74" y2="117.4" stroke="#222" stroke-width="0.8"/>
<text x="486.74" y="126.5" font-size="5.1" text-anchor="middle" fill="#222">10<tspan font-size="3.6" dy="-2.4">5</tspan></text>
<rect x="409.99" y="115.3" width="7" height="2" fill="#111"/>
<line x1="446.84897784695454" y1="115" x2="446.84897784695454" y2="116.3" stroke="#444" stroke-width="0.6"/>
<line x1="451.0337866184128" y1="115" x2="451.0337866184128" y2="116.3" stroke="#444" stroke-width="0.6"/>
<line x1="454.00295569390903" y1="115" x2="454.00295569390903" y2="116.3" stroke="#444" stroke-width="0.6"/>
<line x1="456.3060221530455" y1="115" x2="456.3060221530455" y2="116.3" stroke="#444" stroke-width="0.6"/>
<line x1="458.1877644653673" y1="115" x2="458.1877644653673" y2="116.3" stroke="#444" stroke-width="0.6"/>
<line x1="459.77875492093887" y1="115" x2="459.77875492093887" y2="116.3" stroke="#444" stroke-width="0.6"/>
<line x1="461.1569335408636" y1="115" x2="461.1569335408636" y2="116.3" stroke="#444" stroke-width="0.6"/>
<line x1="462.3725732368256" y1="115" x2="462.3725732368256" y2="116.3" stroke="#444" stroke-width="0.6"/>
<line x1="470.4679782990575" y1="115" x2="470.4679782990575" y2="116.3" stroke="#444" stroke-width="0.6"/>
<line x1="474.5673828098738" y1="115" x2="474.5673828098738" y2="116.3" stroke="#444" stroke-width="0.6"/>
<line x1="477.475956598115" y1="115" x2="477.475956598115" y2="116.3" stroke="#444" stroke-width="0.6"/>
<line x1="479.73202170094254" y1="115" x2="479.73202170094254" y2="116.3" stroke="#444" stroke-width="0.6"/>
<line x1="481.57536110893125" y1="115" x2="481.57536110893125" y2="116.3" stroke="#444" stroke-width="0.6"/>
<line x1="483.1338823715319" y1="115" x2="483.1338823715319" y2="116.3" stroke="#444" stroke-width="0.6"/>
<line x1="484.48393489717245" y1="115" x2="484.48393489717245" y2="116.3" stroke="#444" stroke-width="0.6"/>
<line x1="485.6747656197475" y1="115" x2="485.6747656197475" y2="116.3" stroke="#444" stroke-width="0.6"/>
<line x1="432.54102215304545" y1="115" x2="432.54102215304545" y2="116.3" stroke="#444" stroke-width="0.6"/>
<line x1="428.35621338158717" y1="115" x2="428.35621338158717" y2="116.3" stroke="#444" stroke-width="0.6"/>
<line x1="425.38704430609096" y1="115" x2="425.38704430609096" y2="116.3" stroke="#444" stroke-width="0.6"/>
<line x1="423.0839778469545" y1="115" x2="423.0839778469545" y2="116.3" stroke="#444" stroke-width="0.6"/>
<line x1="421.2022355346327" y1="115" x2="421.2022355346327" y2="116.3" stroke="#444" stroke-width="0.6"/>
<line x1="419.6112450790611" y1="115" x2="419.6112450790611" y2="116.3" stroke="#444" stroke-width="0.6"/>
<line x1="418.2330664591364" y1="115" x2="418.2330664591364" y2="116.3" stroke="#444" stroke-width="0.6"/>
<line x1="493.89397784695456" y1="115" x2="493.89397784695456" y2="116.3" stroke="#444" stroke-width="0.6"/>
<clipPath id="c5"><rect x="56.5" y="130.3" width="95" height="96.2"/></clipPath><g clip-path="url(#c5)">
<g filter="url(#sp)">
<path d="M77,129.5 L151,129.5 L151,222 L60,222 L61,181.5 L67,163.5 L74,150.5 Z" fill="url(#lgv2)" filter="url(#b2)"/>
<ellipse cx="91" cy="214" rx="30" ry="11" fill="url(#rg)" fill-opacity="0.4"/>
<ellipse cx="102" cy="207" rx="10" ry="22" fill="url(#rg)" fill-opacity="0.35"/>
<path d="M115,130.5 L146,130.5 C149,159.5 150,179.5 149.5,195.5 C148,202 143,218 134,223 L105,223 C105,197 106,179.5 109,161.5 C111,144.5 113,135.5 115,130.5 Z" fill-opacity="0.97" filter="url(#b1)"/>
</g>
<path d="M122,143.5 L139,143.5 C142,169.5 143,189.5 141,204.5 C139,215 134,219 128,219 L112,219 C111,197 113,174.5 122,143.5 Z" fill="#383838" filter="url(#b3)"/>
<path d="M123,153.5 L136,153.5 C139,169.5 139,189.5 137,201.5 C135,213 132,215 128,215 L117,215 C116,197 117,174.5 123,153.5 Z" fill="#555" filter="url(#b3)"/>
<ellipse cx="127.1" cy="185" rx="6" ry="24" fill="#6e6e6e" filter="url(#b3)"/>
<ellipse cx="128.1" cy="204.8" rx="4.5" ry="9" fill="#8c8c8c" filter="url(#b2)"/>
<path d="M128.1,201.8 C130.6,205.8 133.1,209.8 132.9,214.8 C132.7,217.8 130.1,219.4 128.1,219.4 C126.1,219.4 123.5,217.8 123.3,214.8 C123.1,209.8 125.6,205.8 128.1,201.8 Z" fill="#cfcfcf" stroke="#444" stroke-width="0.8" filter="url(#b0)"/>
<ellipse cx="128.1" cy="214.4" rx="4.1" ry="4.5" fill="#fafafa"/>
<ellipse cx="128.1" cy="214.4" rx="2.9" ry="3.2" fill="#777"/>
<ellipse cx="128.1" cy="214.4" rx="2.2" ry="2.5" fill="#0a0a0a"/>
</g>
<rect x="56" y="129.5" width="96" height="97.5" fill="none" stroke="#555" stroke-width="0.8"/>
<line x1="56" y1="129.5" x2="152" y2="129.5" stroke="#999" stroke-width="1.6"/>
<line x1="105.4" y1="129.5" x2="105.4" y2="227" stroke="#333" stroke-width="0.7"/>
<line x1="105.4" y1="151.7" x2="161" y2="151.7" stroke="#000" stroke-width="1.3"/>
<path d="M160,148.5 L166,151.7 L160,154.89999999999998 Z" fill="#000"/>
<text x="62.3" y="141.0" font-size="6" font-weight="bold">Lin-</text>
<text x="62.3" y="148.8" font-size="6" font-weight="bold">1.46</text>
<line x1="52" y1="225.0" x2="56" y2="225.0" stroke="#222" stroke-width="0.9"/>
<text x="51" y="226.9" font-size="4.8" text-anchor="end" fill="#333">0</text>
<line x1="54.4" y1="221.43" x2="56" y2="221.43" stroke="#333" stroke-width="0.8"/>
<line x1="54.4" y1="217.86" x2="56" y2="217.86" stroke="#333" stroke-width="0.8"/>
<line x1="54.4" y1="214.29" x2="56" y2="214.29" stroke="#333" stroke-width="0.8"/>
<line x1="54.4" y1="210.72" x2="56" y2="210.72" stroke="#333" stroke-width="0.8"/>
<line x1="52" y1="207.15" x2="56" y2="207.15" stroke="#222" stroke-width="0.9"/>
<text x="51" y="209.05" font-size="4.8" text-anchor="end" fill="#333">50K</text>
<line x1="54.4" y1="203.58" x2="56" y2="203.58" stroke="#333" stroke-width="0.8"/>
<line x1="54.4" y1="200.01" x2="56" y2="200.01" stroke="#333" stroke-width="0.8"/>
<line x1="54.4" y1="196.44" x2="56" y2="196.44" stroke="#333" stroke-width="0.8"/>
<line x1="54.4" y1="192.87" x2="56" y2="192.87" stroke="#333" stroke-width="0.8"/>
<line x1="52" y1="189.3" x2="56" y2="189.3" stroke="#222" stroke-width="0.9"/>
<text x="51" y="191.20000000000002" font-size="4.8" text-anchor="end" fill="#333">100K</text>
<line x1="54.4" y1="185.73000000000002" x2="56" y2="185.73000000000002" stroke="#333" stroke-width="0.8"/>
<line x1="54.4" y1="182.16000000000003" x2="56" y2="182.16000000000003" stroke="#333" stroke-width="0.8"/>
<line x1="54.4" y1="178.59" x2="56" y2="178.59" stroke="#333" stroke-width="0.8"/>
<line x1="54.4" y1="175.02" x2="56" y2="175.02" stroke="#333" stroke-width="0.8"/>
<line x1="52" y1="171.45" x2="56" y2="171.45" stroke="#222" stroke-width="0.9"/>
<text x="51" y="173.35" font-size="4.8" text-anchor="end" fill="#333">150K</text>
<line x1="54.4" y1="167.88" x2="56" y2="167.88" stroke="#333" stroke-width="0.8"/>
<line x1="54.4" y1="164.31" x2="56" y2="164.31" stroke="#333" stroke-width="0.8"/>
<line x1="54.4" y1="160.73999999999998" x2="56" y2="160.73999999999998" stroke="#333" stroke-width="0.8"/>
<line x1="54.4" y1="157.17" x2="56" y2="157.17" stroke="#333" stroke-width="0.8"/>
<line x1="52" y1="153.6" x2="56" y2="153.6" stroke="#222" stroke-width="0.9"/>
<text x="51" y="155.5" font-size="4.8" text-anchor="end" fill="#333">200K</text>
<line x1="54.4" y1="150.03" x2="56" y2="150.03" stroke="#333" stroke-width="0.8"/>
<line x1="54.4" y1="146.45999999999998" x2="56" y2="146.45999999999998" stroke="#333" stroke-width="0.8"/>
<line x1="54.4" y1="142.89" x2="56" y2="142.89" stroke="#333" stroke-width="0.8"/>
<line x1="54.4" y1="139.32" x2="56" y2="139.32" stroke="#333" stroke-width="0.8"/>
<line x1="52" y1="135.75" x2="56" y2="135.75" stroke="#222" stroke-width="0.9"/>
<text x="51" y="137.65" font-size="4.8" text-anchor="end" fill="#333">250K</text>
<text x="66" y="236" font-size="4.8" text-anchor="middle" fill="#333">0</text>
<text x="101.5" y="239" font-size="4.8" text-anchor="middle" fill="#333">10<tspan font-size="3.4" dy="-2.2">3</tspan></text>
<text x="122.5" y="239" font-size="4.8" text-anchor="middle" fill="#333">10<tspan font-size="3.4" dy="-2.2">4</tspan></text>
<text x="143.5" y="239" font-size="4.8" text-anchor="middle" fill="#333">10<tspan font-size="3.4" dy="-2.2">5</tspan></text>
<rect x="64" y="227.5" width="3" height="2" fill="#111"/>
<clipPath id="c6"><rect x="168.0" y="130.3" width="95.5" height="97.89999999999999"/></clipPath><g clip-path="url(#c6)">
<g filter="url(#sp)">
<rect x="174" y="147.4" width="20.5" height="22.400000000000006" fill-opacity="0.78" filter="url(#b2)"/>
<rect x="196" y="152.60000000000002" width="30" height="14" fill-opacity="0.5" filter="url(#b2)"/>
<rect x="225.5" y="150.60000000000002" width="16" height="17" fill-opacity="0.28" filter="url(#b2)"/>
<rect x="238.5" y="153.60000000000002" width="10" height="12" fill-opacity="0.15" filter="url(#b2)"/>
<rect x="172" y="168.8" width="28" height="16.5" fill-opacity="0.55" filter="url(#b2)"/>
<rect x="172" y="183.3" width="32" height="39.39999999999998" fill-opacity="0.5" filter="url(#b3)"/>
<ellipse cx="184.5" cy="213.7" rx="11" ry="10" fill="url(#rg)" fill-opacity="0.65"/>
<ellipse cx="228" cy="210.7" rx="22" ry="8" fill="url(#rg)" fill-opacity="0.7"/>
<rect x="204" y="185.3" width="54" height="37.39999999999998" fill-opacity="0.1" filter="url(#b3)"/>
<rect x="170" y="133.5" width="38" height="12.900000000000006" fill-opacity="0.12" filter="url(#b2)"/>
<rect x="196" y="166.8" width="60" height="14.5" fill-opacity="0.12" filter="url(#b2)"/>
</g>
</g>
<ellipse cx="183" cy="212.7" rx="3" ry="2.5" fill="#222" filter="url(#b1)"/>
<rect x="174" y="147.70000000000002" width="6.5" height="1.6" fill="#fff"/>
<rect x="167.5" y="129.5" width="96.5" height="99.19999999999999" fill="none" stroke="#555" stroke-width="0.8"/>
<line x1="167.5" y1="129.5" x2="264" y2="129.5" stroke="#999" stroke-width="1.2"/>
<line x1="208.7" y1="129.5" x2="208.7" y2="228.7" stroke="#444" stroke-width="0.7"/>
<line x1="167.5" y1="181.3" x2="264" y2="181.3" stroke="#444" stroke-width="0.7"/>
<rect x="173" y="146.4" width="22.5" height="24.400000000000006" fill="none" stroke="#111" stroke-width="1.4"/>
<rect x="224.5" y="144.3" width="20.099999999999994" height="26.5" fill="none" stroke="#111" stroke-width="1.4"/>
<line x1="188" y1="146.4" x2="188" y2="133.2" stroke="#222" stroke-width="0.9"/>
<line x1="188" y1="133.2" x2="391" y2="133.2" stroke="#111" stroke-width="1.0"/>
<path d="M390,130.0 L396,133.2 L390,136.39999999999998 Z" fill="#000"/>
<line x1="244.6" y1="151.3" x2="276" y2="151.3" stroke="#111" stroke-width="1.0"/>
<path d="M275,148.10000000000002 L281,151.3 L275,154.5 Z" fill="#000"/>
<text x="169" y="138.5" font-size="6" font-weight="bold">Q1</text>
<text x="169" y="145.5" font-size="6" font-weight="bold">36.6</text>
<text x="197" y="170.3" font-size="6" font-weight="bold">LK</text>
<text x="197" y="178.3" font-size="6" font-weight="bold">21.3</text>
<text x="250" y="138.5" font-size="6" font-weight="bold">Q2</text>
<text x="250" y="145.5" font-size="6" font-weight="bold">5.79</text>
<text x="250" y="170.3" font-size="6" font-weight="bold">LSK</text>
<text x="250" y="178.3" font-size="6" font-weight="bold">1.36</text>
<text x="169" y="215.7" font-size="6" font-weight="bold">Q4</text>
<text x="169" y="223.2" font-size="6" font-weight="bold">45.4</text>
<text x="250" y="215.7" font-size="6" font-weight="bold">Q3</text>
<text x="250" y="223.2" font-size="6" font-weight="bold">12.2</text>
<line x1="164.9" y1="139.42" x2="167.5" y2="139.42" stroke="#222" stroke-width="0.8"/>
<text x="163.9" y="141.01999999999998" font-size="5.1" text-anchor="end" fill="#222">10<tspan font-size="3.6" dy="-2.4">5</tspan></text>
<line x1="164.9" y1="161.74" x2="167.5" y2="161.74" stroke="#222" stroke-width="0.8"/>
<text x="163.9" y="163.34" font-size="5.1" text-anchor="end" fill="#222">10<tspan font-size="3.6" dy="-2.4">4</tspan></text>
<line x1="164.9" y1="186.54" x2="167.5" y2="186.54" stroke="#222" stroke-width="0.8"/>
<text x="163.9" y="188.14" font-size="5.1" text-anchor="end" fill="#222">10<tspan font-size="3.6" dy="-2.4">3</tspan></text>
<line x1="166.1" y1="155.02101049677995" x2="167.5" y2="155.02101049677995" stroke="#444" stroke-width="0.6"/>
<line x1="166.1" y1="151.09065359465714" x2="167.5" y2="151.09065359465714" stroke="#444" stroke-width="0.6"/>
<line x1="166.1" y1="148.30202099355986" x2="167.5" y2="148.30202099355986" stroke="#444" stroke-width="0.6"/>
<line x1="166.1" y1="146.13898950322005" x2="167.5" y2="146.13898950322005" stroke="#444" stroke-width="0.6"/>
<line x1="166.1" y1="144.37166409143705" x2="167.5" y2="144.37166409143705" stroke="#444" stroke-width="0.6"/>
<line x1="166.1" y1="142.8774117468818" x2="167.5" y2="142.8774117468818" stroke="#444" stroke-width="0.6"/>
<line x1="166.1" y1="141.5830314903398" x2="167.5" y2="141.5830314903398" stroke="#444" stroke-width="0.6"/>
<line x1="166.1" y1="140.44130718931427" x2="167.5" y2="140.44130718931427" stroke="#444" stroke-width="0.6"/>
<line x1="166.1" y1="179.07445610753325" x2="167.5" y2="179.07445610753325" stroke="#444" stroke-width="0.6"/>
<line x1="166.1" y1="174.70739288295238" x2="167.5" y2="174.70739288295238" stroke="#444" stroke-width="0.6"/>
<line x1="166.1" y1="171.60891221506654" x2="167.5" y2="171.60891221506654" stroke="#444" stroke-width="0.6"/>
<line x1="166.1" y1="169.20554389246672" x2="167.5" y2="169.20554389246672" stroke="#444" stroke-width="0.6"/>
<line x1="166.1" y1="167.24184899048564" x2="167.5" y2="167.24184899048564" stroke="#444" stroke-width="0.6"/>
<line x1="166.1" y1="165.58156860764643" x2="167.5" y2="165.58156860764643" stroke="#444" stroke-width="0.6"/>
<line x1="166.1" y1="164.1433683225998" x2="167.5" y2="164.1433683225998" stroke="#444" stroke-width="0.6"/>
<line x1="166.1" y1="162.87478576590476" x2="167.5" y2="162.87478576590476" stroke="#444" stroke-width="0.6"/>
<line x1="166.1" y1="154.27445610753327" x2="167.5" y2="154.27445610753327" stroke="#444" stroke-width="0.6"/>
<line x1="166.1" y1="149.9073928829524" x2="167.5" y2="149.9073928829524" stroke="#444" stroke-width="0.6"/>
<line x1="166.1" y1="146.80891221506656" x2="167.5" y2="146.80891221506656" stroke="#444" stroke-width="0.6"/>
<line x1="166.1" y1="144.40554389246677" x2="167.5" y2="144.40554389246677" stroke="#444" stroke-width="0.6"/>
<line x1="166.1" y1="142.44184899048565" x2="167.5" y2="142.44184899048565" stroke="#444" stroke-width="0.6"/>
<line x1="166.1" y1="140.78156860764645" x2="167.5" y2="140.78156860764645" stroke="#444" stroke-width="0.6"/>
<line x1="166.1" y1="139.34336832259982" x2="167.5" y2="139.34336832259982" stroke="#444" stroke-width="0.6"/>
<line x1="166.1" y1="138.07478576590478" x2="167.5" y2="138.07478576590478" stroke="#444" stroke-width="0.6"/>
<line x1="166.1" y1="193.236" x2="167.5" y2="193.236" stroke="#444" stroke-width="0.6"/>
<line x1="166.1" y1="197.7" x2="167.5" y2="197.7" stroke="#444" stroke-width="0.6"/>
<line x1="166.1" y1="202.164" x2="167.5" y2="202.164" stroke="#444" stroke-width="0.6"/>
<line x1="165.0" y1="207.868" x2="167.5" y2="207.868" stroke="#111" stroke-width="1.0"/>
<line x1="165.0" y1="210.844" x2="167.5" y2="210.844" stroke="#111" stroke-width="1.0"/>
<line x1="165.0" y1="213.82" x2="167.5" y2="213.82" stroke="#111" stroke-width="1.0"/>
<line x1="165.0" y1="216.796" x2="167.5" y2="216.796" stroke="#111" stroke-width="1.0"/>
<line x1="183.905" y1="228.7" x2="183.905" y2="231.1" stroke="#222" stroke-width="0.8"/>
<text x="183.905" y="237.2" font-size="5" text-anchor="middle" fill="#222">0</text>
<line x1="209.4775" y1="228.7" x2="209.4775" y2="231.1" stroke="#222" stroke-width="0.8"/>
<text x="209.4775" y="240.2" font-size="5.1" text-anchor="middle" fill="#222">10<tspan font-size="3.6" dy="-2.4">3</tspan></text>
<line x1="233.12" y1="228.7" x2="233.12" y2="231.1" stroke="#222" stroke-width="0.8"/>
<text x="233.12" y="240.2" font-size="5.1" text-anchor="middle" fill="#222">10<tspan font-size="3.6" dy="-2.4">4</tspan></text>
<line x1="256.28" y1="228.7" x2="256.28" y2="231.1" stroke="#222" stroke-width="0.8"/>
<text x="256.28" y="240.2" font-size="5.1" text-anchor="middle" fill="#222">10<tspan font-size="3.6" dy="-2.4">5</tspan></text>
<rect x="179.905" y="229.0" width="7" height="2" fill="#111"/>
<line x1="216.59460167248568" y1="228.7" x2="216.59460167248568" y2="230.0" stroke="#444" stroke-width="0.6"/>
<line x1="220.75783926470962" y1="228.7" x2="220.75783926470962" y2="230.0" stroke="#444" stroke-width="0.6"/>
<line x1="223.71170334497134" y1="228.7" x2="223.71170334497134" y2="230.0" stroke="#444" stroke-width="0.6"/>
<line x1="226.00289832751432" y1="228.7" x2="226.00289832751432" y2="230.0" stroke="#444" stroke-width="0.6"/>
<line x1="227.8749409371953" y1="228.7" x2="227.8749409371953" y2="230.0" stroke="#444" stroke-width="0.6"/>
<line x1="229.45773041103706" y1="228.7" x2="229.45773041103706" y2="230.0" stroke="#444" stroke-width="0.6"/>
<line x1="230.82880501745703" y1="228.7" x2="230.82880501745703" y2="230.0" stroke="#444" stroke-width="0.6"/>
<line x1="232.03817852941924" y1="228.7" x2="232.03817852941924" y2="230.0" stroke="#444" stroke-width="0.6"/>
<line x1="240.0918546995778" y1="228.7" x2="240.0918546995778" y2="230.0" stroke="#444" stroke-width="0.6"/>
<line x1="244.17012825930738" y1="228.7" x2="244.17012825930738" y2="230.0" stroke="#444" stroke-width="0.6"/>
<line x1="247.06370939915558" y1="228.7" x2="247.06370939915558" y2="230.0" stroke="#444" stroke-width="0.6"/>
<line x1="249.30814530042218" y1="228.7" x2="249.30814530042218" y2="230.0" stroke="#444" stroke-width="0.6"/>
<line x1="251.14198295888517" y1="228.7" x2="251.14198295888517" y2="230.0" stroke="#444" stroke-width="0.6"/>
<line x1="252.69247060673015" y1="228.7" x2="252.69247060673015" y2="230.0" stroke="#444" stroke-width="0.6"/>
<line x1="254.0355640987334" y1="228.7" x2="254.0355640987334" y2="230.0" stroke="#444" stroke-width="0.6"/>
<line x1="255.22025651861475" y1="228.7" x2="255.22025651861475" y2="230.0" stroke="#444" stroke-width="0.6"/>
<line x1="202.3603983275143" y1="228.7" x2="202.3603983275143" y2="230.0" stroke="#444" stroke-width="0.6"/>
<line x1="198.19716073529037" y1="228.7" x2="198.19716073529037" y2="230.0" stroke="#444" stroke-width="0.6"/>
<line x1="195.24329665502864" y1="228.7" x2="195.24329665502864" y2="230.0" stroke="#444" stroke-width="0.6"/>
<line x1="192.95210167248567" y1="228.7" x2="192.95210167248567" y2="230.0" stroke="#444" stroke-width="0.6"/>
<line x1="191.08005906280468" y1="228.7" x2="191.08005906280468" y2="230.0" stroke="#444" stroke-width="0.6"/>
<line x1="189.49726958896292" y1="228.7" x2="189.49726958896292" y2="230.0" stroke="#444" stroke-width="0.6"/>
<line x1="188.12619498254296" y1="228.7" x2="188.12619498254296" y2="230.0" stroke="#444" stroke-width="0.6"/>
<line x1="263.39710167248563" y1="228.7" x2="263.39710167248563" y2="230.0" stroke="#444" stroke-width="0.6"/>
<clipPath id="c7"><rect x="283.0" y="130.3" width="96.0" height="97.89999999999999"/></clipPath><g clip-path="url(#c7)">
<g filter="url(#sp)">
<rect x="339" y="168" width="12" height="12" fill-opacity="0.08" filter="url(#b2)"/>
<rect x="334" y="178" width="19" height="33" fill-opacity="0.16" filter="url(#b2)"/>
<rect x="338" y="186" width="11" height="20" fill-opacity="0.08" filter="url(#b2)"/>
<rect x="308" y="195" width="16" height="14" fill-opacity="0.03" filter="url(#b2)"/>
</g>
</g>
<rect x="282.5" y="129.5" width="97.0" height="99.19999999999999" fill="none" stroke="#555" stroke-width="0.8"/>
<rect x="325.3" y="153.8" width="35.39999999999998" height="27.5" fill="none" stroke="#444" stroke-width="0.8"/>
<rect x="297.2" y="181.3" width="28.100000000000023" height="29.69999999999999" fill="none" stroke="#444" stroke-width="0.8"/>
<rect x="325.3" y="181.3" width="35.39999999999998" height="29.69999999999999" fill="none" stroke="#444" stroke-width="0.8"/>
<line x1="325.3" y1="181.3" x2="325.3" y2="211" stroke="#333" stroke-width="1.4"/>
<line x1="325.3" y1="181.3" x2="360.7" y2="181.3" stroke="#333" stroke-width="1.4"/>
<text x="364" y="158.8" font-size="5.8" font-weight="bold">MPP</text>
<text x="364" y="166.3" font-size="5.8" font-weight="bold">11.3</text>
<text x="285.5" y="196.3" font-size="5.6" font-weight="bold">LT-HSC</text>
<text x="285.5" y="203.8" font-size="5.8" font-weight="bold">1.89</text>
<text x="357" y="195.8" font-size="5.6" font-weight="bold">ST-HSC</text>
<text x="357" y="203.3" font-size="5.8" font-weight="bold">82.7</text>
<line x1="279.9" y1="139.42" x2="282.5" y2="139.42" stroke="#222" stroke-width="0.8"/>
<text x="278.9" y="141.01999999999998" font-size="5.1" text-anchor="end" fill="#222">10<tspan font-size="3.6" dy="-2.4">5</tspan></text>
<line x1="279.9" y1="161.74" x2="282.5" y2="161.74" stroke="#222" stroke-width="0.8"/>
<text x="278.9" y="163.34" font-size="5.1" text-anchor="end" fill="#222">10<tspan font-size="3.6" dy="-2.4">4</tspan></text>
<line x1="279.9" y1="186.54" x2="282.5" y2="186.54" stroke="#222" stroke-width="0.8"/>
<text x="278.9" y="188.14" font-size="5.1" text-anchor="end" fill="#222">10<tspan font-size="3.6" dy="-2.4">3</tspan></text>
<line x1="281.1" y1="155.02101049677995" x2="282.5" y2="155.02101049677995" stroke="#444" stroke-width="0.6"/>
<line x1="281.1" y1="151.09065359465714" x2="282.5" y2="151.09065359465714" stroke="#444" stroke-width="0.6"/>
<line x1="281.1" y1="148.30202099355986" x2="282.5" y2="148.30202099355986" stroke="#444" stroke-width="0.6"/>
<line x1="281.1" y1="146.13898950322005" x2="282.5" y2="146.13898950322005" stroke="#444" stroke-width="0.6"/>
<line x1="281.1" y1="144.37166409143705" x2="282.5" y2="144.37166409143705" stroke="#444" stroke-width="0.6"/>
<line x1="281.1" y1="142.8774117468818" x2="282.5" y2="142.8774117468818" stroke="#444" stroke-width="0.6"/>
<line x1="281.1" y1="141.5830314903398" x2="282.5" y2="141.5830314903398" stroke="#444" stroke-width="0.6"/>
<line x1="281.1" y1="140.44130718931427" x2="282.5" y2="140.44130718931427" stroke="#444" stroke-width="0.6"/>
<line x1="281.1" y1="179.07445610753325" x2="282.5" y2="179.07445610753325" stroke="#444" stroke-width="0.6"/>
<line x1="281.1" y1="174.70739288295238" x2="282.5" y2="174.70739288295238" stroke="#444" stroke-width="0.6"/>
<line x1="281.1" y1="171.60891221506654" x2="282.5" y2="171.60891221506654" stroke="#444" stroke-width="0.6"/>
<line x1="281.1" y1="169.20554389246672" x2="282.5" y2="169.20554389246672" stroke="#444" stroke-width="0.6"/>
<line x1="281.1" y1="167.24184899048564" x2="282.5" y2="167.24184899048564" stroke="#444" stroke-width="0.6"/>
<line x1="281.1" y1="165.58156860764643" x2="282.5" y2="165.58156860764643" stroke="#444" stroke-width="0.6"/>
<line x1="281.1" y1="164.1433683225998" x2="282.5" y2="164.1433683225998" stroke="#444" stroke-width="0.6"/>
<line x1="281.1" y1="162.87478576590476" x2="282.5" y2="162.87478576590476" stroke="#444" stroke-width="0.6"/>
<line x1="281.1" y1="154.27445610753327" x2="282.5" y2="154.27445610753327" stroke="#444" stroke-width="0.6"/>
<line x1="281.1" y1="149.9073928829524" x2="282.5" y2="149.9073928829524" stroke="#444" stroke-width="0.6"/>
<line x1="281.1" y1="146.80891221506656" x2="282.5" y2="146.80891221506656" stroke="#444" stroke-width="0.6"/>
<line x1="281.1" y1="144.40554389246677" x2="282.5" y2="144.40554389246677" stroke="#444" stroke-width="0.6"/>
<line x1="281.1" y1="142.44184899048565" x2="282.5" y2="142.44184899048565" stroke="#444" stroke-width="0.6"/>
<line x1="281.1" y1="140.78156860764645" x2="282.5" y2="140.78156860764645" stroke="#444" stroke-width="0.6"/>
<line x1="281.1" y1="139.34336832259982" x2="282.5" y2="139.34336832259982" stroke="#444" stroke-width="0.6"/>
<line x1="281.1" y1="138.07478576590478" x2="282.5" y2="138.07478576590478" stroke="#444" stroke-width="0.6"/>
<line x1="281.1" y1="193.236" x2="282.5" y2="193.236" stroke="#444" stroke-width="0.6"/>
<line x1="281.1" y1="197.7" x2="282.5" y2="197.7" stroke="#444" stroke-width="0.6"/>
<line x1="281.1" y1="202.164" x2="282.5" y2="202.164" stroke="#444" stroke-width="0.6"/>
<line x1="280.0" y1="207.868" x2="282.5" y2="207.868" stroke="#111" stroke-width="1.0"/>
<line x1="280.0" y1="210.844" x2="282.5" y2="210.844" stroke="#111" stroke-width="1.0"/>
<line x1="280.0" y1="213.82" x2="282.5" y2="213.82" stroke="#111" stroke-width="1.0"/>
<line x1="280.0" y1="216.796" x2="282.5" y2="216.796" stroke="#111" stroke-width="1.0"/>
<line x1="298.99" y1="228.7" x2="298.99" y2="231.1" stroke="#222" stroke-width="0.8"/>
<text x="298.99" y="237.2" font-size="5" text-anchor="middle" fill="#222">0</text>
<line x1="324.695" y1="228.7" x2="324.695" y2="231.1" stroke="#222" stroke-width="0.8"/>
<text x="324.695" y="240.2" font-size="5.1" text-anchor="middle" fill="#222">10<tspan font-size="3.6" dy="-2.4">3</tspan></text>
<line x1="348.46000000000004" y1="228.7" x2="348.46000000000004" y2="231.1" stroke="#222" stroke-width="0.8"/>
<text x="348.46000000000004" y="240.2" font-size="5.1" text-anchor="middle" fill="#222">10<tspan font-size="3.6" dy="-2.4">4</tspan></text>
<line x1="371.74" y1="228.7" x2="371.74" y2="231.1" stroke="#222" stroke-width="0.8"/>
<text x="371.74" y="240.2" font-size="5.1" text-anchor="middle" fill="#222">10<tspan font-size="3.6" dy="-2.4">5</tspan></text>
<rect x="294.99" y="229.0" width="7" height="2" fill="#111"/>
<line x1="331.84897784695454" y1="228.7" x2="331.84897784695454" y2="230.0" stroke="#444" stroke-width="0.6"/>
<line x1="336.0337866184128" y1="228.7" x2="336.0337866184128" y2="230.0" stroke="#444" stroke-width="0.6"/>
<line x1="339.00295569390903" y1="228.7" x2="339.00295569390903" y2="230.0" stroke="#444" stroke-width="0.6"/>
<line x1="341.3060221530455" y1="228.7" x2="341.3060221530455" y2="230.0" stroke="#444" stroke-width="0.6"/>
<line x1="343.1877644653673" y1="228.7" x2="343.1877644653673" y2="230.0" stroke="#444" stroke-width="0.6"/>
<line x1="344.77875492093887" y1="228.7" x2="344.77875492093887" y2="230.0" stroke="#444" stroke-width="0.6"/>
<line x1="346.1569335408636" y1="228.7" x2="346.1569335408636" y2="230.0" stroke="#444" stroke-width="0.6"/>
<line x1="347.3725732368256" y1="228.7" x2="347.3725732368256" y2="230.0" stroke="#444" stroke-width="0.6"/>
<line x1="355.4679782990575" y1="228.7" x2="355.4679782990575" y2="230.0" stroke="#444" stroke-width="0.6"/>
<line x1="359.5673828098738" y1="228.7" x2="359.5673828098738" y2="230.0" stroke="#444" stroke-width="0.6"/>
<line x1="362.475956598115" y1="228.7" x2="362.475956598115" y2="230.0" stroke="#444" stroke-width="0.6"/>
<line x1="364.73202170094254" y1="228.7" x2="364.73202170094254" y2="230.0" stroke="#444" stroke-width="0.6"/>
<line x1="366.57536110893125" y1="228.7" x2="366.57536110893125" y2="230.0" stroke="#444" stroke-width="0.6"/>
<line x1="368.1338823715319" y1="228.7" x2="368.1338823715319" y2="230.0" stroke="#444" stroke-width="0.6"/>
<line x1="369.48393489717245" y1="228.7" x2="369.48393489717245" y2="230.0" stroke="#444" stroke-width="0.6"/>
<line x1="370.6747656197475" y1="228.7" x2="370.6747656197475" y2="230.0" stroke="#444" stroke-width="0.6"/>
<line x1="317.54102215304545" y1="228.7" x2="317.54102215304545" y2="230.0" stroke="#444" stroke-width="0.6"/>
<line x1="313.35621338158717" y1="228.7" x2="313.35621338158717" y2="230.0" stroke="#444" stroke-width="0.6"/>
<line x1="310.38704430609096" y1="228.7" x2="310.38704430609096" y2="230.0" stroke="#444" stroke-width="0.6"/>
<line x1="308.0839778469545" y1="228.7" x2="308.0839778469545" y2="230.0" stroke="#444" stroke-width="0.6"/>
<line x1="306.2022355346327" y1="228.7" x2="306.2022355346327" y2="230.0" stroke="#444" stroke-width="0.6"/>
<line x1="304.6112450790611" y1="228.7" x2="304.6112450790611" y2="230.0" stroke="#444" stroke-width="0.6"/>
<line x1="303.2330664591364" y1="228.7" x2="303.2330664591364" y2="230.0" stroke="#444" stroke-width="0.6"/>
<line x1="378.89397784695456" y1="228.7" x2="378.89397784695456" y2="230.0" stroke="#444" stroke-width="0.6"/>
<clipPath id="c8"><rect x="398.0" y="130.3" width="96.0" height="97.89999999999999"/></clipPath><g clip-path="url(#c8)">
<g filter="url(#sp)">
<ellipse cx="422" cy="201" rx="14" ry="24" fill="url(#rg)" fill-opacity="0.62"/>
<ellipse cx="444" cy="199" rx="19" ry="21" fill="url(#rg)" fill-opacity="0.46"/>
<ellipse cx="462" cy="170" rx="10" ry="20" fill="url(#rg)" fill-opacity="0.74"/>
<ellipse cx="450" cy="183" rx="19" ry="11" fill="url(#rg)" fill-opacity="0.42"/>
<ellipse cx="418" cy="173" rx="17" ry="13" fill="url(#rg)" fill-opacity="0.26"/>
<ellipse cx="440" cy="218" rx="30" ry="7" fill="url(#rg)" fill-opacity="0.3"/>
<ellipse cx="405" cy="200" rx="8" ry="20" fill="url(#rg)" fill-opacity="0.2"/>
</g>
</g>
<rect x="397.5" y="129.5" width="97.0" height="99.19999999999999" fill="none" stroke="#555" stroke-width="0.8"/>
<rect x="433.4" y="154.9" width="39.10000000000002" height="27.5" fill="none" stroke="#444" stroke-width="0.8"/>
<rect x="411.2" y="183.4" width="22.19999999999999" height="37.599999999999994" fill="none" stroke="#444" stroke-width="0.8"/>
<rect x="433.4" y="182.4" width="39.10000000000002" height="38.599999999999994" fill="none" stroke="#444" stroke-width="0.8"/>
<line x1="433.4" y1="182.4" x2="472.5" y2="182.4" stroke="#222" stroke-width="1.3"/>
<line x1="433.4" y1="182.4" x2="433.4" y2="221" stroke="#333" stroke-width="1.2"/>
<text x="474.5" y="161.4" font-size="5.8" font-weight="bold">GMP</text>
<text x="474.5" y="168.9" font-size="5.8" font-weight="bold">33.6</text>
<text x="398.5" y="215" font-size="5.8" font-weight="bold">MEP</text>
<text x="398.5" y="222.5" font-size="5.8" font-weight="bold">32.9</text>
<text x="474.5" y="215" font-size="5.8" font-weight="bold">CMP</text>
<text x="474.5" y="222.5" font-size="5.8" font-weight="bold">26.7</text>
<line x1="394.9" y1="139.42" x2="397.5" y2="139.42" stroke="#222" stroke-width="0.8"/>
<text x="393.9" y="141.01999999999998" font-size="5.1" text-anchor="end" fill="#222">10<tspan font-size="3.6" dy="-2.4">5</tspan></text>
<line x1="394.9" y1="161.74" x2="397.5" y2="161.74" stroke="#222" stroke-width="0.8"/>
<text x="393.9" y="163.34" font-size="5.1" text-anchor="end" fill="#222">10<tspan font-size="3.6" dy="-2.4">4</tspan></text>
<line x1="394.9" y1="186.54" x2="397.5" y2="186.54" stroke="#222" stroke-width="0.8"/>
<text x="393.9" y="188.14" font-size="5.1" text-anchor="end" fill="#222">10<tspan font-size="3.6" dy="-2.4">3</tspan></text>
<line x1="396.1" y1="155.02101049677995" x2="397.5" y2="155.02101049677995" stroke="#444" stroke-width="0.6"/>
<line x1="396.1" y1="151.09065359465714" x2="397.5" y2="151.09065359465714" stroke="#444" stroke-width="0.6"/>
<line x1="396.1" y1="148.30202099355986" x2="397.5" y2="148.30202099355986" stroke="#444" stroke-width="0.6"/>
<line x1="396.1" y1="146.13898950322005" x2="397.5" y2="146.13898950322005" stroke="#444" stroke-width="0.6"/>
<line x1="396.1" y1="144.37166409143705" x2="397.5" y2="144.37166409143705" stroke="#444" stroke-width="0.6"/>
<line x1="396.1" y1="142.8774117468818" x2="397.5" y2="142.8774117468818" stroke="#444" stroke-width="0.6"/>
<line x1="396.1" y1="141.5830314903398" x2="397.5" y2="141.5830314903398" stroke="#444" stroke-width="0.6"/>
<line x1="396.1" y1="140.44130718931427" x2="397.5" y2="140.44130718931427" stroke="#444" stroke-width="0.6"/>
<line x1="396.1" y1="179.07445610753325" x2="397.5" y2="179.07445610753325" stroke="#444" stroke-width="0.6"/>
<line x1="396.1" y1="174.70739288295238" x2="397.5" y2="174.70739288295238" stroke="#444" stroke-width="0.6"/>
<line x1="396.1" y1="171.60891221506654" x2="397.5" y2="171.60891221506654" stroke="#444" stroke-width="0.6"/>
<line x1="396.1" y1="169.20554389246672" x2="397.5" y2="169.20554389246672" stroke="#444" stroke-width="0.6"/>
<line x1="396.1" y1="167.24184899048564" x2="397.5" y2="167.24184899048564" stroke="#444" stroke-width="0.6"/>
<line x1="396.1" y1="165.58156860764643" x2="397.5" y2="165.58156860764643" stroke="#444" stroke-width="0.6"/>
<line x1="396.1" y1="164.1433683225998" x2="397.5" y2="164.1433683225998" stroke="#444" stroke-width="0.6"/>
<line x1="396.1" y1="162.87478576590476" x2="397.5" y2="162.87478576590476" stroke="#444" stroke-width="0.6"/>
<line x1="396.1" y1="154.27445610753327" x2="397.5" y2="154.27445610753327" stroke="#444" stroke-width="0.6"/>
<line x1="396.1" y1="149.9073928829524" x2="397.5" y2="149.9073928829524" stroke="#444" stroke-width="0.6"/>
<line x1="396.1" y1="146.80891221506656" x2="397.5" y2="146.80891221506656" stroke="#444" stroke-width="0.6"/>
<line x1="396.1" y1="144.40554389246677" x2="397.5" y2="144.40554389246677" stroke="#444" stroke-width="0.6"/>
<line x1="396.1" y1="142.44184899048565" x2="397.5" y2="142.44184899048565" stroke="#444" stroke-width="0.6"/>
<line x1="396.1" y1="140.78156860764645" x2="397.5" y2="140.78156860764645" stroke="#444" stroke-width="0.6"/>
<line x1="396.1" y1="139.34336832259982" x2="397.5" y2="139.34336832259982" stroke="#444" stroke-width="0.6"/>
<line x1="396.1" y1="138.07478576590478" x2="397.5" y2="138.07478576590478" stroke="#444" stroke-width="0.6"/>
<line x1="396.1" y1="193.236" x2="397.5" y2="193.236" stroke="#444" stroke-width="0.6"/>
<line x1="396.1" y1="197.7" x2="397.5" y2="197.7" stroke="#444" stroke-width="0.6"/>
<line x1="396.1" y1="202.164" x2="397.5" y2="202.164" stroke="#444" stroke-width="0.6"/>
<line x1="395.0" y1="207.868" x2="397.5" y2="207.868" stroke="#111" stroke-width="1.0"/>
<line x1="395.0" y1="210.844" x2="397.5" y2="210.844" stroke="#111" stroke-width="1.0"/>
<line x1="395.0" y1="213.82" x2="397.5" y2="213.82" stroke="#111" stroke-width="1.0"/>
<line x1="395.0" y1="216.796" x2="397.5" y2="216.796" stroke="#111" stroke-width="1.0"/>
<line x1="413.99" y1="228.7" x2="413.99" y2="231.1" stroke="#222" stroke-width="0.8"/>
<text x="413.99" y="237.2" font-size="5" text-anchor="middle" fill="#222">0</text>
<line x1="439.695" y1="228.7" x2="439.695" y2="231.1" stroke="#222" stroke-width="0.8"/>
<text x="439.695" y="240.2" font-size="5.1" text-anchor="middle" fill="#222">10<tspan font-size="3.6" dy="-2.4">3</tspan></text>
<line x1="463.46000000000004" y1="228.7" x2="463.46000000000004" y2="231.1" stroke="#222" stroke-width="0.8"/>
<text x="463.46000000000004" y="240.2" font-size="5.1" text-anchor="middle" fill="#222">10<tspan font-size="3.6" dy="-2.4">4</tspan></text>
<line x1="486.74" y1="228.7" x2="486.74" y2="231.1" stroke="#222" stroke-width="0.8"/>
<text x="486.74" y="240.2" font-size="5.1" text-anchor="middle" fill="#222">10<tspan font-size="3.6" dy="-2.4">5</tspan></text>
<rect x="409.99" y="229.0" width="7" height="2" fill="#111"/>
<line x1="446.84897784695454" y1="228.7" x2="446.84897784695454" y2="230.0" stroke="#444" stroke-width="0.6"/>
<line x1="451.0337866184128" y1="228.7" x2="451.0337866184128" y2="230.0" stroke="#444" stroke-width="0.6"/>
<line x1="454.00295569390903" y1="228.7" x2="454.00295569390903" y2="230.0" stroke="#444" stroke-width="0.6"/>
<line x1="456.3060221530455" y1="228.7" x2="456.3060221530455" y2="230.0" stroke="#444" stroke-width="0.6"/>
<line x1="458.1877644653673" y1="228.7" x2="458.1877644653673" y2="230.0" stroke="#444" stroke-width="0.6"/>
<line x1="459.77875492093887" y1="228.7" x2="459.77875492093887" y2="230.0" stroke="#444" stroke-width="0.6"/>
<line x1="461.1569335408636" y1="228.7" x2="461.1569335408636" y2="230.0" stroke="#444" stroke-width="0.6"/>
<line x1="462.3725732368256" y1="228.7" x2="462.3725732368256" y2="230.0" stroke="#444" stroke-width="0.6"/>
<line x1="470.4679782990575" y1="228.7" x2="470.4679782990575" y2="230.0" stroke="#444" stroke-width="0.6"/>
<line x1="474.5673828098738" y1="228.7" x2="474.5673828098738" y2="230.0" stroke="#444" stroke-width="0.6"/>
<line x1="477.475956598115" y1="228.7" x2="477.475956598115" y2="230.0" stroke="#444" stroke-width="0.6"/>
<line x1="479.73202170094254" y1="228.7" x2="479.73202170094254" y2="230.0" stroke="#444" stroke-width="0.6"/>
<line x1="481.57536110893125" y1="228.7" x2="481.57536110893125" y2="230.0" stroke="#444" stroke-width="0.6"/>
<line x1="483.1338823715319" y1="228.7" x2="483.1338823715319" y2="230.0" stroke="#444" stroke-width="0.6"/>
<line x1="484.48393489717245" y1="228.7" x2="484.48393489717245" y2="230.0" stroke="#444" stroke-width="0.6"/>
<line x1="485.6747656197475" y1="228.7" x2="485.6747656197475" y2="230.0" stroke="#444" stroke-width="0.6"/>
<line x1="432.54102215304545" y1="228.7" x2="432.54102215304545" y2="230.0" stroke="#444" stroke-width="0.6"/>
<line x1="428.35621338158717" y1="228.7" x2="428.35621338158717" y2="230.0" stroke="#444" stroke-width="0.6"/>
<line x1="425.38704430609096" y1="228.7" x2="425.38704430609096" y2="230.0" stroke="#444" stroke-width="0.6"/>
<line x1="423.0839778469545" y1="228.7" x2="423.0839778469545" y2="230.0" stroke="#444" stroke-width="0.6"/>
<line x1="421.2022355346327" y1="228.7" x2="421.2022355346327" y2="230.0" stroke="#444" stroke-width="0.6"/>
<line x1="419.6112450790611" y1="228.7" x2="419.6112450790611" y2="230.0" stroke="#444" stroke-width="0.6"/>
<line x1="418.2330664591364" y1="228.7" x2="418.2330664591364" y2="230.0" stroke="#444" stroke-width="0.6"/>
<line x1="493.89397784695456" y1="228.7" x2="493.89397784695456" y2="230.0" stroke="#444" stroke-width="0.6"/>
<clipPath id="c9"><rect x="54.5" y="244.8" width="97" height="95.7"/></clipPath><g clip-path="url(#c9)">
<g filter="url(#sp)">
<path d="M75,244 L151,244 L151,336 L58,336 L59,296 L65,278 L72,265 Z" fill="url(#lgv2)" filter="url(#b2)"/>
<ellipse cx="89" cy="328" rx="30" ry="11" fill="url(#rg)" fill-opacity="0.4"/>
<ellipse cx="100" cy="321" rx="10" ry="22" fill="url(#rg)" fill-opacity="0.35"/>
<path d="M115,245 L146,245 C149,274 150,294 149.5,310 C148,316 143,332 134,337 L105,337 C105,311 106,294 109,276 C111,259 113,250 115,245 Z" fill-opacity="0.97" filter="url(#b1)"/>
</g>
<path d="M122,258 L139,258 C142,284 143,304 141,319 C139,329 134,333 128,333 L112,333 C111,311 113,289 122,258 Z" fill="#383838" filter="url(#b3)"/>
<path d="M123,268 L136,268 C139,284 139,304 137,316 C135,327 132,329 128,329 L117,329 C116,311 117,289 123,268 Z" fill="#555" filter="url(#b3)"/>
<ellipse cx="125.6" cy="299" rx="6" ry="24" fill="#6e6e6e" filter="url(#b3)"/>
<ellipse cx="126.6" cy="318.8" rx="4.5" ry="9" fill="#8c8c8c" filter="url(#b2)"/>
<path d="M126.6,315.8 C129.1,319.8 131.6,323.8 131.4,328.8 C131.2,331.8 128.6,333.40000000000003 126.6,333.40000000000003 C124.6,333.40000000000003 122.0,331.8 121.8,328.8 C121.6,323.8 124.1,319.8 126.6,315.8 Z" fill="#cfcfcf" stroke="#444" stroke-width="0.8" filter="url(#b0)"/>
<ellipse cx="126.6" cy="328.40000000000003" rx="4.1" ry="4.5" fill="#fafafa"/>
<ellipse cx="126.6" cy="328.40000000000003" rx="2.9" ry="3.2" fill="#777"/>
<ellipse cx="126.6" cy="328.40000000000003" rx="2.2" ry="2.5" fill="#0a0a0a"/>
</g>
<rect x="54" y="244" width="98" height="97" fill="none" stroke="#555" stroke-width="0.8"/>
<line x1="54" y1="244" x2="152" y2="244" stroke="#999" stroke-width="1.6"/>
<line x1="105.4" y1="244" x2="105.4" y2="341" stroke="#333" stroke-width="0.7"/>
<line x1="105.4" y1="269.5" x2="161" y2="269.5" stroke="#000" stroke-width="1.3"/>
<path d="M160,266.3 L166,269.5 L160,272.7 Z" fill="#000"/>
<text x="61.3" y="255.5" font-size="6" font-weight="bold">Lin-</text>
<text x="61.3" y="263.3" font-size="6" font-weight="bold">1.54</text>
<line x1="50" y1="339.0" x2="54" y2="339.0" stroke="#222" stroke-width="0.9"/>
<text x="49" y="340.9" font-size="4.8" text-anchor="end" fill="#333">0</text>
<line x1="52.4" y1="335.43" x2="54" y2="335.43" stroke="#333" stroke-width="0.8"/>
<line x1="52.4" y1="331.86" x2="54" y2="331.86" stroke="#333" stroke-width="0.8"/>
<line x1="52.4" y1="328.29" x2="54" y2="328.29" stroke="#333" stroke-width="0.8"/>
<line x1="52.4" y1="324.72" x2="54" y2="324.72" stroke="#333" stroke-width="0.8"/>
<line x1="50" y1="321.15" x2="54" y2="321.15" stroke="#222" stroke-width="0.9"/>
<text x="49" y="323.04999999999995" font-size="4.8" text-anchor="end" fill="#333">50K</text>
<line x1="52.4" y1="317.58" x2="54" y2="317.58" stroke="#333" stroke-width="0.8"/>
<line x1="52.4" y1="314.01" x2="54" y2="314.01" stroke="#333" stroke-width="0.8"/>
<line x1="52.4" y1="310.44" x2="54" y2="310.44" stroke="#333" stroke-width="0.8"/>
<line x1="52.4" y1="306.87" x2="54" y2="306.87" stroke="#333" stroke-width="0.8"/>
<line x1="50" y1="303.3" x2="54" y2="303.3" stroke="#222" stroke-width="0.9"/>
<text x="49" y="305.2" font-size="4.8" text-anchor="end" fill="#333">100K</text>
<line x1="52.4" y1="299.73" x2="54" y2="299.73" stroke="#333" stroke-width="0.8"/>
<line x1="52.4" y1="296.16" x2="54" y2="296.16" stroke="#333" stroke-width="0.8"/>
<line x1="52.4" y1="292.59000000000003" x2="54" y2="292.59000000000003" stroke="#333" stroke-width="0.8"/>
<line x1="52.4" y1="289.02" x2="54" y2="289.02" stroke="#333" stroke-width="0.8"/>
<line x1="50" y1="285.45" x2="54" y2="285.45" stroke="#222" stroke-width="0.9"/>
<text x="49" y="287.34999999999997" font-size="4.8" text-anchor="end" fill="#333">150K</text>
<line x1="52.4" y1="281.88" x2="54" y2="281.88" stroke="#333" stroke-width="0.8"/>
<line x1="52.4" y1="278.31" x2="54" y2="278.31" stroke="#333" stroke-width="0.8"/>
<line x1="52.4" y1="274.74" x2="54" y2="274.74" stroke="#333" stroke-width="0.8"/>
<line x1="52.4" y1="271.16999999999996" x2="54" y2="271.16999999999996" stroke="#333" stroke-width="0.8"/>
<line x1="50" y1="267.6" x2="54" y2="267.6" stroke="#222" stroke-width="0.9"/>
<text x="49" y="269.5" font-size="4.8" text-anchor="end" fill="#333">200K</text>
<line x1="52.4" y1="264.03000000000003" x2="54" y2="264.03000000000003" stroke="#333" stroke-width="0.8"/>
<line x1="52.4" y1="260.46000000000004" x2="54" y2="260.46000000000004" stroke="#333" stroke-width="0.8"/>
<line x1="52.4" y1="256.89000000000004" x2="54" y2="256.89000000000004" stroke="#333" stroke-width="0.8"/>
<line x1="52.4" y1="253.32000000000002" x2="54" y2="253.32000000000002" stroke="#333" stroke-width="0.8"/>
<line x1="50" y1="249.75" x2="54" y2="249.75" stroke="#222" stroke-width="0.9"/>
<text x="49" y="251.65" font-size="4.8" text-anchor="end" fill="#333">250K</text>
<text x="66" y="350" font-size="4.8" text-anchor="middle" fill="#333">0</text>
<text x="101.5" y="353" font-size="4.8" text-anchor="middle" fill="#333">10<tspan font-size="3.4" dy="-2.2">3</tspan></text>
<text x="122.5" y="353" font-size="4.8" text-anchor="middle" fill="#333">10<tspan font-size="3.4" dy="-2.2">4</tspan></text>
<text x="143.5" y="353" font-size="4.8" text-anchor="middle" fill="#333">10<tspan font-size="3.4" dy="-2.2">5</tspan></text>
<rect x="64" y="341.5" width="3" height="2" fill="#111"/>
<clipPath id="c10"><rect x="168.0" y="244.8" width="95.5" height="96.7"/></clipPath><g clip-path="url(#c10)">
<g filter="url(#sp)">
<rect x="174" y="261.4" width="20.5" height="22.900000000000034" fill-opacity="0.8" filter="url(#b2)"/>
<rect x="196" y="266.85" width="30" height="14" fill-opacity="0.55" filter="url(#b2)"/>
<rect x="225.5" y="264.85" width="16" height="17" fill-opacity="0.28" filter="url(#b2)"/>
<rect x="238.5" y="267.85" width="10" height="12" fill-opacity="0.15" filter="url(#b2)"/>
<rect x="172" y="283.3" width="28" height="17.5" fill-opacity="0.55" filter="url(#b2)"/>
<rect x="172" y="298.8" width="32" height="37.19999999999999" fill-opacity="0.5" filter="url(#b3)"/>
<ellipse cx="184.5" cy="327" rx="11" ry="10" fill="url(#rg)" fill-opacity="0.6"/>
<ellipse cx="228" cy="324" rx="22" ry="8" fill="url(#rg)" fill-opacity="0.65"/>
<rect x="204" y="300.8" width="54" height="35.19999999999999" fill-opacity="0.1" filter="url(#b3)"/>
<rect x="170" y="248" width="38" height="12.399999999999977" fill-opacity="0.12" filter="url(#b2)"/>
<rect x="196" y="281.3" width="60" height="15.5" fill-opacity="0.12" filter="url(#b2)"/>
</g>
</g>
<ellipse cx="183" cy="326" rx="3" ry="2.5" fill="#222" filter="url(#b1)"/>
<rect x="174" y="261.7" width="6.5" height="1.6" fill="#fff"/>
<rect x="167.5" y="244" width="96.5" height="98" fill="none" stroke="#555" stroke-width="0.8"/>
<line x1="167.5" y1="244" x2="264" y2="244" stroke="#999" stroke-width="1.2"/>
<line x1="208.7" y1="244" x2="208.7" y2="342" stroke="#444" stroke-width="0.7"/>
<line x1="167.5" y1="296.8" x2="264" y2="296.8" stroke="#444" stroke-width="0.7"/>
<rect x="173" y="260.4" width="22.5" height="24.900000000000034" fill="none" stroke="#111" stroke-width="1.4"/>
<rect x="224.5" y="258.3" width="20.099999999999994" height="26.399999999999977" fill="none" stroke="#111" stroke-width="1.4"/>
<line x1="188" y1="260.4" x2="188" y2="246" stroke="#222" stroke-width="0.9"/>
<line x1="188" y1="246" x2="391" y2="246" stroke="#111" stroke-width="1.0"/>
<path d="M390,242.8 L396,246 L390,249.2 Z" fill="#000"/>
<line x1="244.6" y1="265.7" x2="276" y2="265.7" stroke="#111" stroke-width="1.0"/>
<path d="M275,262.5 L281,265.7 L275,268.9 Z" fill="#000"/>
<text x="169" y="253" font-size="6" font-weight="bold">Q1</text>
<text x="169" y="260" font-size="6" font-weight="bold">43.1</text>
<text x="197" y="284.8" font-size="6" font-weight="bold">LK</text>
<text x="197" y="292.8" font-size="6" font-weight="bold">27.3</text>
<text x="250" y="253" font-size="6" font-weight="bold">Q2</text>
<text x="250" y="260" font-size="6" font-weight="bold">5.31</text>
<text x="250" y="284.8" font-size="6" font-weight="bold">LSK</text>
<text x="250" y="292.8" font-size="6" font-weight="bold">1.21</text>
<text x="169" y="329" font-size="6" font-weight="bold">Q4</text>
<text x="169" y="336.5" font-size="6" font-weight="bold">44.9</text>
<text x="250" y="329" font-size="6" font-weight="bold">Q3</text>
<text x="250" y="336.5" font-size="6" font-weight="bold">6.64</text>
<line x1="164.9" y1="253.8" x2="167.5" y2="253.8" stroke="#222" stroke-width="0.8"/>
<text x="163.9" y="255.4" font-size="5.1" text-anchor="end" fill="#222">10<tspan font-size="3.6" dy="-2.4">5</tspan></text>
<line x1="164.9" y1="275.85" x2="167.5" y2="275.85" stroke="#222" stroke-width="0.8"/>
<text x="163.9" y="277.45000000000005" font-size="5.1" text-anchor="end" fill="#222">10<tspan font-size="3.6" dy="-2.4">4</tspan></text>
<line x1="164.9" y1="300.35" x2="167.5" y2="300.35" stroke="#222" stroke-width="0.8"/>
<text x="163.9" y="301.95000000000005" font-size="5.1" text-anchor="end" fill="#222">10<tspan font-size="3.6" dy="-2.4">3</tspan></text>
<line x1="166.1" y1="269.2122885956092" x2="167.5" y2="269.2122885956092" stroke="#444" stroke-width="0.6"/>
<line x1="166.1" y1="265.32947633343144" x2="167.5" y2="265.32947633343144" stroke="#444" stroke-width="0.6"/>
<line x1="166.1" y1="262.57457719121845" x2="167.5" y2="262.57457719121845" stroke="#444" stroke-width="0.6"/>
<line x1="166.1" y1="260.4377114043908" x2="167.5" y2="260.4377114043908" stroke="#444" stroke-width="0.6"/>
<line x1="166.1" y1="258.6917649290407" x2="167.5" y2="258.6917649290407" stroke="#444" stroke-width="0.6"/>
<line x1="166.1" y1="257.21558821768565" x2="167.5" y2="257.21558821768565" stroke="#444" stroke-width="0.6"/>
<line x1="166.1" y1="255.93686578682767" x2="167.5" y2="255.93686578682767" stroke="#444" stroke-width="0.6"/>
<line x1="166.1" y1="254.8089526668629" x2="167.5" y2="254.8089526668629" stroke="#444" stroke-width="0.6"/>
<line x1="166.1" y1="292.9747651062325" x2="167.5" y2="292.9747651062325" stroke="#444" stroke-width="0.6"/>
<line x1="166.1" y1="288.6605292593683" x2="167.5" y2="288.6605292593683" stroke="#444" stroke-width="0.6"/>
<line x1="166.1" y1="285.59953021246497" x2="167.5" y2="285.59953021246497" stroke="#444" stroke-width="0.6"/>
<line x1="166.1" y1="283.22523489376755" x2="167.5" y2="283.22523489376755" stroke="#444" stroke-width="0.6"/>
<line x1="166.1" y1="281.28529436560075" x2="167.5" y2="281.28529436560075" stroke="#444" stroke-width="0.6"/>
<line x1="166.1" y1="279.64509801965073" x2="167.5" y2="279.64509801965073" stroke="#444" stroke-width="0.6"/>
<line x1="166.1" y1="278.2242953186974" x2="167.5" y2="278.2242953186974" stroke="#444" stroke-width="0.6"/>
<line x1="166.1" y1="276.9710585187366" x2="167.5" y2="276.9710585187366" stroke="#444" stroke-width="0.6"/>
<line x1="166.1" y1="268.4747651062325" x2="167.5" y2="268.4747651062325" stroke="#444" stroke-width="0.6"/>
<line x1="166.1" y1="264.1605292593683" x2="167.5" y2="264.1605292593683" stroke="#444" stroke-width="0.6"/>
<line x1="166.1" y1="261.09953021246497" x2="167.5" y2="261.09953021246497" stroke="#444" stroke-width="0.6"/>
<line x1="166.1" y1="258.72523489376755" x2="167.5" y2="258.72523489376755" stroke="#444" stroke-width="0.6"/>
<line x1="166.1" y1="256.78529436560075" x2="167.5" y2="256.78529436560075" stroke="#444" stroke-width="0.6"/>
<line x1="166.1" y1="255.14509801965073" x2="167.5" y2="255.14509801965073" stroke="#444" stroke-width="0.6"/>
<line x1="166.1" y1="253.72429531869741" x2="167.5" y2="253.72429531869741" stroke="#444" stroke-width="0.6"/>
<line x1="166.1" y1="252.47105851873656" x2="167.5" y2="252.47105851873656" stroke="#444" stroke-width="0.6"/>
<line x1="166.1" y1="306.96500000000003" x2="167.5" y2="306.96500000000003" stroke="#444" stroke-width="0.6"/>
<line x1="166.1" y1="311.375" x2="167.5" y2="311.375" stroke="#444" stroke-width="0.6"/>
<line x1="166.1" y1="315.785" x2="167.5" y2="315.785" stroke="#444" stroke-width="0.6"/>
<line x1="165.0" y1="321.42" x2="167.5" y2="321.42" stroke="#111" stroke-width="1.0"/>
<line x1="165.0" y1="324.36" x2="167.5" y2="324.36" stroke="#111" stroke-width="1.0"/>
<line x1="165.0" y1="327.3" x2="167.5" y2="327.3" stroke="#111" stroke-width="1.0"/>
<line x1="165.0" y1="330.24" x2="167.5" y2="330.24" stroke="#111" stroke-width="1.0"/>
<line x1="183.905" y1="342" x2="183.905" y2="344.4" stroke="#222" stroke-width="0.8"/>
<text x="183.905" y="350.5" font-size="5" text-anchor="middle" fill="#222">0</text>
<line x1="209.4775" y1="342" x2="209.4775" y2="344.4" stroke="#222" stroke-width="0.8"/>
<text x="209.4775" y="353.5" font-size="5.1" text-anchor="middle" fill="#222">10<tspan font-size="3.6" dy="-2.4">3</tspan></text>
<line x1="233.12" y1="342" x2="233.12" y2="344.4" stroke="#222" stroke-width="0.8"/>
<text x="233.12" y="353.5" font-size="5.1" text-anchor="middle" fill="#222">10<tspan font-size="3.6" dy="-2.4">4</tspan></text>
<line x1="256.28" y1="342" x2="256.28" y2="344.4" stroke="#222" stroke-width="0.8"/>
<text x="256.28" y="353.5" font-size="5.1" text-anchor="middle" fill="#222">10<tspan font-size="3.6" dy="-2.4">5</tspan></text>
<rect x="179.905" y="342.3" width="7" height="2" fill="#111"/>
<line x1="216.59460167248568" y1="342" x2="216.59460167248568" y2="343.3" stroke="#444" stroke-width="0.6"/>
<line x1="220.75783926470962" y1="342" x2="220.75783926470962" y2="343.3" stroke="#444" stroke-width="0.6"/>
<line x1="223.71170334497134" y1="342" x2="223.71170334497134" y2="343.3" stroke="#444" stroke-width="0.6"/>
<line x1="226.00289832751432" y1="342" x2="226.00289832751432" y2="343.3" stroke="#444" stroke-width="0.6"/>
<line x1="227.8749409371953" y1="342" x2="227.8749409371953" y2="343.3" stroke="#444" stroke-width="0.6"/>
<line x1="229.45773041103706" y1="342" x2="229.45773041103706" y2="343.3" stroke="#444" stroke-width="0.6"/>
<line x1="230.82880501745703" y1="342" x2="230.82880501745703" y2="343.3" stroke="#444" stroke-width="0.6"/>
<line x1="232.03817852941924" y1="342" x2="232.03817852941924" y2="343.3" stroke="#444" stroke-width="0.6"/>
<line x1="240.0918546995778" y1="342" x2="240.0918546995778" y2="343.3" stroke="#444" stroke-width="0.6"/>
<line x1="244.17012825930738" y1="342" x2="244.17012825930738" y2="343.3" stroke="#444" stroke-width="0.6"/>
<line x1="247.06370939915558" y1="342" x2="247.06370939915558" y2="343.3" stroke="#444" stroke-width="0.6"/>
<line x1="249.30814530042218" y1="342" x2="249.30814530042218" y2="343.3" stroke="#444" stroke-width="0.6"/>
<line x1="251.14198295888517" y1="342" x2="251.14198295888517" y2="343.3" stroke="#444" stroke-width="0.6"/>
<line x1="252.69247060673015" y1="342" x2="252.69247060673015" y2="343.3" stroke="#444" stroke-width="0.6"/>
<line x1="254.0355640987334" y1="342" x2="254.0355640987334" y2="343.3" stroke="#444" stroke-width="0.6"/>
<line x1="255.22025651861475" y1="342" x2="255.22025651861475" y2="343.3" stroke="#444" stroke-width="0.6"/>
<line x1="202.3603983275143" y1="342" x2="202.3603983275143" y2="343.3" stroke="#444" stroke-width="0.6"/>
<line x1="198.19716073529037" y1="342" x2="198.19716073529037" y2="343.3" stroke="#444" stroke-width="0.6"/>
<line x1="195.24329665502864" y1="342" x2="195.24329665502864" y2="343.3" stroke="#444" stroke-width="0.6"/>
<line x1="192.95210167248567" y1="342" x2="192.95210167248567" y2="343.3" stroke="#444" stroke-width="0.6"/>
<line x1="191.08005906280468" y1="342" x2="191.08005906280468" y2="343.3" stroke="#444" stroke-width="0.6"/>
<line x1="189.49726958896292" y1="342" x2="189.49726958896292" y2="343.3" stroke="#444" stroke-width="0.6"/>
<line x1="188.12619498254296" y1="342" x2="188.12619498254296" y2="343.3" stroke="#444" stroke-width="0.6"/>
<line x1="263.39710167248563" y1="342" x2="263.39710167248563" y2="343.3" stroke="#444" stroke-width="0.6"/>
<clipPath id="c11"><rect x="283.0" y="244.8" width="96.0" height="96.7"/></clipPath><g clip-path="url(#c11)">
<g filter="url(#sp)">
<rect x="338" y="274" width="13" height="20" fill-opacity="0.11" filter="url(#b2)"/>
<rect x="334" y="291" width="18" height="33" fill-opacity="0.17" filter="url(#b2)"/>
<rect x="338" y="296" width="10" height="22" fill-opacity="0.1" filter="url(#b2)"/>
<rect x="308" y="310" width="16" height="14" fill-opacity="0.03" filter="url(#b2)"/>
</g>
</g>
<rect x="282.5" y="244" width="97.0" height="98" fill="none" stroke="#555" stroke-width="0.8"/>
<rect x="324.7" y="267.8" width="36.0" height="27.5" fill="none" stroke="#444" stroke-width="0.8"/>
<rect x="297.2" y="295.3" width="27.5" height="29.0" fill="none" stroke="#444" stroke-width="0.8"/>
<rect x="324.7" y="295.3" width="36.0" height="29.0" fill="none" stroke="#444" stroke-width="0.8"/>
<line x1="324.7" y1="295.3" x2="324.7" y2="324.3" stroke="#333" stroke-width="1.4"/>
<line x1="324.7" y1="295.3" x2="360.7" y2="295.3" stroke="#333" stroke-width="1.4"/>
<text x="364" y="272.8" font-size="5.8" font-weight="bold">MPP</text>
<text x="364" y="280.3" font-size="5.8" font-weight="bold">25.6</text>
<text x="285.5" y="310.3" font-size="5.6" font-weight="bold">LT-HSC</text>
<text x="285.5" y="317.8" font-size="5.8" font-weight="bold">1.97</text>
<text x="357" y="309.8" font-size="5.6" font-weight="bold">ST-HSC</text>
<text x="357" y="317.3" font-size="5.8" font-weight="bold">68.2</text>
<line x1="279.9" y1="253.8" x2="282.5" y2="253.8" stroke="#222" stroke-width="0.8"/>
<text x="278.9" y="255.4" font-size="5.1" text-anchor="end" fill="#222">10<tspan font-size="3.6" dy="-2.4">5</tspan></text>
<line x1="279.9" y1="275.85" x2="282.5" y2="275.85" stroke="#222" stroke-width="0.8"/>
<text x="278.9" y="277.45000000000005" font-size="5.1" text-anchor="end" fill="#222">10<tspan font-size="3.6" dy="-2.4">4</tspan></text>
<line x1="279.9" y1="300.35" x2="282.5" y2="300.35" stroke="#222" stroke-width="0.8"/>
<text x="278.9" y="301.95000000000005" font-size="5.1" text-anchor="end" fill="#222">10<tspan font-size="3.6" dy="-2.4">3</tspan></text>
<line x1="281.1" y1="269.2122885956092" x2="282.5" y2="269.2122885956092" stroke="#444" stroke-width="0.6"/>
<line x1="281.1" y1="265.32947633343144" x2="282.5" y2="265.32947633343144" stroke="#444" stroke-width="0.6"/>
<line x1="281.1" y1="262.57457719121845" x2="282.5" y2="262.57457719121845" stroke="#444" stroke-width="0.6"/>
<line x1="281.1" y1="260.4377114043908" x2="282.5" y2="260.4377114043908" stroke="#444" stroke-width="0.6"/>
<line x1="281.1" y1="258.6917649290407" x2="282.5" y2="258.6917649290407" stroke="#444" stroke-width="0.6"/>
<line x1="281.1" y1="257.21558821768565" x2="282.5" y2="257.21558821768565" stroke="#444" stroke-width="0.6"/>
<line x1="281.1" y1="255.93686578682767" x2="282.5" y2="255.93686578682767" stroke="#444" stroke-width="0.6"/>
<line x1="281.1" y1="254.8089526668629" x2="282.5" y2="254.8089526668629" stroke="#444" stroke-width="0.6"/>
<line x1="281.1" y1="292.9747651062325" x2="282.5" y2="292.9747651062325" stroke="#444" stroke-width="0.6"/>
<line x1="281.1" y1="288.6605292593683" x2="282.5" y2="288.6605292593683" stroke="#444" stroke-width="0.6"/>
<line x1="281.1" y1="285.59953021246497" x2="282.5" y2="285.59953021246497" stroke="#444" stroke-width="0.6"/>
<line x1="281.1" y1="283.22523489376755" x2="282.5" y2="283.22523489376755" stroke="#444" stroke-width="0.6"/>
<line x1="281.1" y1="281.28529436560075" x2="282.5" y2="281.28529436560075" stroke="#444" stroke-width="0.6"/>
<line x1="281.1" y1="279.64509801965073" x2="282.5" y2="279.64509801965073" stroke="#444" stroke-width="0.6"/>
<line x1="281.1" y1="278.2242953186974" x2="282.5" y2="278.2242953186974" stroke="#444" stroke-width="0.6"/>
<line x1="281.1" y1="276.9710585187366" x2="282.5" y2="276.9710585187366" stroke="#444" stroke-width="0.6"/>
<line x1="281.1" y1="268.4747651062325" x2="282.5" y2="268.4747651062325" stroke="#444" stroke-width="0.6"/>
<line x1="281.1" y1="264.1605292593683" x2="282.5" y2="264.1605292593683" stroke="#444" stroke-width="0.6"/>
<line x1="281.1" y1="261.09953021246497" x2="282.5" y2="261.09953021246497" stroke="#444" stroke-width="0.6"/>
<line x1="281.1" y1="258.72523489376755" x2="282.5" y2="258.72523489376755" stroke="#444" stroke-width="0.6"/>
<line x1="281.1" y1="256.78529436560075" x2="282.5" y2="256.78529436560075" stroke="#444" stroke-width="0.6"/>
<line x1="281.1" y1="255.14509801965073" x2="282.5" y2="255.14509801965073" stroke="#444" stroke-width="0.6"/>
<line x1="281.1" y1="253.72429531869741" x2="282.5" y2="253.72429531869741" stroke="#444" stroke-width="0.6"/>
<line x1="281.1" y1="252.47105851873656" x2="282.5" y2="252.47105851873656" stroke="#444" stroke-width="0.6"/>
<line x1="281.1" y1="306.96500000000003" x2="282.5" y2="306.96500000000003" stroke="#444" stroke-width="0.6"/>
<line x1="281.1" y1="311.375" x2="282.5" y2="311.375" stroke="#444" stroke-width="0.6"/>
<line x1="281.1" y1="315.785" x2="282.5" y2="315.785" stroke="#444" stroke-width="0.6"/>
<line x1="280.0" y1="321.42" x2="282.5" y2="321.42" stroke="#111" stroke-width="1.0"/>
<line x1="280.0" y1="324.36" x2="282.5" y2="324.36" stroke="#111" stroke-width="1.0"/>
<line x1="280.0" y1="327.3" x2="282.5" y2="327.3" stroke="#111" stroke-width="1.0"/>
<line x1="280.0" y1="330.24" x2="282.5" y2="330.24" stroke="#111" stroke-width="1.0"/>
<line x1="298.99" y1="342" x2="298.99" y2="344.4" stroke="#222" stroke-width="0.8"/>
<text x="298.99" y="350.5" font-size="5" text-anchor="middle" fill="#222">0</text>
<line x1="324.695" y1="342" x2="324.695" y2="344.4" stroke="#222" stroke-width="0.8"/>
<text x="324.695" y="353.5" font-size="5.1" text-anchor="middle" fill="#222">10<tspan font-size="3.6" dy="-2.4">3</tspan></text>
<line x1="348.46000000000004" y1="342" x2="348.46000000000004" y2="344.4" stroke="#222" stroke-width="0.8"/>
<text x="348.46000000000004" y="353.5" font-size="5.1" text-anchor="middle" fill="#222">10<tspan font-size="3.6" dy="-2.4">4</tspan></text>
<line x1="371.74" y1="342" x2="371.74" y2="344.4" stroke="#222" stroke-width="0.8"/>
<text x="371.74" y="353.5" font-size="5.1" text-anchor="middle" fill="#222">10<tspan font-size="3.6" dy="-2.4">5</tspan></text>
<rect x="294.99" y="342.3" width="7" height="2" fill="#111"/>
<line x1="331.84897784695454" y1="342" x2="331.84897784695454" y2="343.3" stroke="#444" stroke-width="0.6"/>
<line x1="336.0337866184128" y1="342" x2="336.0337866184128" y2="343.3" stroke="#444" stroke-width="0.6"/>
<line x1="339.00295569390903" y1="342" x2="339.00295569390903" y2="343.3" stroke="#444" stroke-width="0.6"/>
<line x1="341.3060221530455" y1="342" x2="341.3060221530455" y2="343.3" stroke="#444" stroke-width="0.6"/>
<line x1="343.1877644653673" y1="342" x2="343.1877644653673" y2="343.3" stroke="#444" stroke-width="0.6"/>
<line x1="344.77875492093887" y1="342" x2="344.77875492093887" y2="343.3" stroke="#444" stroke-width="0.6"/>
<line x1="346.1569335408636" y1="342" x2="346.1569335408636" y2="343.3" stroke="#444" stroke-width="0.6"/>
<line x1="347.3725732368256" y1="342" x2="347.3725732368256" y2="343.3" stroke="#444" stroke-width="0.6"/>
<line x1="355.4679782990575" y1="342" x2="355.4679782990575" y2="343.3" stroke="#444" stroke-width="0.6"/>
<line x1="359.5673828098738" y1="342" x2="359.5673828098738" y2="343.3" stroke="#444" stroke-width="0.6"/>
<line x1="362.475956598115" y1="342" x2="362.475956598115" y2="343.3" stroke="#444" stroke-width="0.6"/>
<line x1="364.73202170094254" y1="342" x2="364.73202170094254" y2="343.3" stroke="#444" stroke-width="0.6"/>
<line x1="366.57536110893125" y1="342" x2="366.57536110893125" y2="343.3" stroke="#444" stroke-width="0.6"/>
<line x1="368.1338823715319" y1="342" x2="368.1338823715319" y2="343.3" stroke="#444" stroke-width="0.6"/>
<line x1="369.48393489717245" y1="342" x2="369.48393489717245" y2="343.3" stroke="#444" stroke-width="0.6"/>
<line x1="370.6747656197475" y1="342" x2="370.6747656197475" y2="343.3" stroke="#444" stroke-width="0.6"/>
<line x1="317.54102215304545" y1="342" x2="317.54102215304545" y2="343.3" stroke="#444" stroke-width="0.6"/>
<line x1="313.35621338158717" y1="342" x2="313.35621338158717" y2="343.3" stroke="#444" stroke-width="0.6"/>
<line x1="310.38704430609096" y1="342" x2="310.38704430609096" y2="343.3" stroke="#444" stroke-width="0.6"/>
<line x1="308.0839778469545" y1="342" x2="308.0839778469545" y2="343.3" stroke="#444" stroke-width="0.6"/>
<line x1="306.2022355346327" y1="342" x2="306.2022355346327" y2="343.3" stroke="#444" stroke-width="0.6"/>
<line x1="304.6112450790611" y1="342" x2="304.6112450790611" y2="343.3" stroke="#444" stroke-width="0.6"/>
<line x1="303.2330664591364" y1="342" x2="303.2330664591364" y2="343.3" stroke="#444" stroke-width="0.6"/>
<line x1="378.89397784695456" y1="342" x2="378.89397784695456" y2="343.3" stroke="#444" stroke-width="0.6"/>
<clipPath id="c12"><rect x="398.0" y="244.8" width="96.0" height="96.7"/></clipPath><g clip-path="url(#c12)">
<g filter="url(#sp)">
<ellipse cx="422" cy="315" rx="14" ry="24" fill="url(#rg)" fill-opacity="0.55"/>
<ellipse cx="445" cy="312" rx="19" ry="21" fill="url(#rg)" fill-opacity="0.42"/>
<ellipse cx="463" cy="284" rx="9" ry="20" fill="url(#rg)" fill-opacity="0.66"/>
<ellipse cx="452" cy="297" rx="17" ry="11" fill="url(#rg)" fill-opacity="0.36"/>
<ellipse cx="418" cy="288" rx="17" ry="13" fill="url(#rg)" fill-opacity="0.22"/>
<ellipse cx="440" cy="332" rx="30" ry="7" fill="url(#rg)" fill-opacity="0.3"/>
<ellipse cx="405" cy="314" rx="8" ry="20" fill="url(#rg)" fill-opacity="0.18"/>
</g>
</g>
<rect x="397.5" y="244" width="97.0" height="98" fill="none" stroke="#555" stroke-width="0.8"/>
<rect x="433.4" y="268.8" width="38.60000000000002" height="27.5" fill="none" stroke="#444" stroke-width="0.8"/>
<rect x="411.6" y="297.3" width="21.799999999999955" height="37.599999999999966" fill="none" stroke="#444" stroke-width="0.8"/>
<rect x="433.4" y="296.3" width="38.60000000000002" height="38.599999999999966" fill="none" stroke="#444" stroke-width="0.8"/>
<line x1="433.4" y1="296.3" x2="472" y2="296.3" stroke="#222" stroke-width="1.3"/>
<line x1="433.4" y1="296.3" x2="433.4" y2="334.9" stroke="#333" stroke-width="1.2"/>
<text x="474.5" y="275.3" font-size="5.8" font-weight="bold">GMP</text>
<text x="474.5" y="282.8" font-size="5.8" font-weight="bold">28.0</text>
<text x="398.5" y="328.9" font-size="5.8" font-weight="bold">MEP</text>
<text x="398.5" y="336.4" font-size="5.8" font-weight="bold">27.4</text>
<text x="474.5" y="328.9" font-size="5.8" font-weight="bold">CMP</text>
<text x="474.5" y="336.4" font-size="5.8" font-weight="bold">38.0</text>
<line x1="394.9" y1="253.8" x2="397.5" y2="253.8" stroke="#222" stroke-width="0.8"/>
<text x="393.9" y="255.4" font-size="5.1" text-anchor="end" fill="#222">10<tspan font-size="3.6" dy="-2.4">5</tspan></text>
<line x1="394.9" y1="275.85" x2="397.5" y2="275.85" stroke="#222" stroke-width="0.8"/>
<text x="393.9" y="277.45000000000005" font-size="5.1" text-anchor="end" fill="#222">10<tspan font-size="3.6" dy="-2.4">4</tspan></text>
<line x1="394.9" y1="300.35" x2="397.5" y2="300.35" stroke="#222" stroke-width="0.8"/>
<text x="393.9" y="301.95000000000005" font-size="5.1" text-anchor="end" fill="#222">10<tspan font-size="3.6" dy="-2.4">3</tspan></text>
<line x1="396.1" y1="269.2122885956092" x2="397.5" y2="269.2122885956092" stroke="#444" stroke-width="0.6"/>
<line x1="396.1" y1="265.32947633343144" x2="397.5" y2="265.32947633343144" stroke="#444" stroke-width="0.6"/>
<line x1="396.1" y1="262.57457719121845" x2="397.5" y2="262.57457719121845" stroke="#444" stroke-width="0.6"/>
<line x1="396.1" y1="260.4377114043908" x2="397.5" y2="260.4377114043908" stroke="#444" stroke-width="0.6"/>
<line x1="396.1" y1="258.6917649290407" x2="397.5" y2="258.6917649290407" stroke="#444" stroke-width="0.6"/>
<line x1="396.1" y1="257.21558821768565" x2="397.5" y2="257.21558821768565" stroke="#444" stroke-width="0.6"/>
<line x1="396.1" y1="255.93686578682767" x2="397.5" y2="255.93686578682767" stroke="#444" stroke-width="0.6"/>
<line x1="396.1" y1="254.8089526668629" x2="397.5" y2="254.8089526668629" stroke="#444" stroke-width="0.6"/>
<line x1="396.1" y1="292.9747651062325" x2="397.5" y2="292.9747651062325" stroke="#444" stroke-width="0.6"/>
<line x1="396.1" y1="288.6605292593683" x2="397.5" y2="288.6605292593683" stroke="#444" stroke-width="0.6"/>
<line x1="396.1" y1="285.59953021246497" x2="397.5" y2="285.59953021246497" stroke="#444" stroke-width="0.6"/>
<line x1="396.1" y1="283.22523489376755" x2="397.5" y2="283.22523489376755" stroke="#444" stroke-width="0.6"/>
<line x1="396.1" y1="281.28529436560075" x2="397.5" y2="281.28529436560075" stroke="#444" stroke-width="0.6"/>
<line x1="396.1" y1="279.64509801965073" x2="397.5" y2="279.64509801965073" stroke="#444" stroke-width="0.6"/>
<line x1="396.1" y1="278.2242953186974" x2="397.5" y2="278.2242953186974" stroke="#444" stroke-width="0.6"/>
<line x1="396.1" y1="276.9710585187366" x2="397.5" y2="276.9710585187366" stroke="#444" stroke-width="0.6"/>
<line x1="396.1" y1="268.4747651062325" x2="397.5" y2="268.4747651062325" stroke="#444" stroke-width="0.6"/>
<line x1="396.1" y1="264.1605292593683" x2="397.5" y2="264.1605292593683" stroke="#444" stroke-width="0.6"/>
<line x1="396.1" y1="261.09953021246497" x2="397.5" y2="261.09953021246497" stroke="#444" stroke-width="0.6"/>
<line x1="396.1" y1="258.72523489376755" x2="397.5" y2="258.72523489376755" stroke="#444" stroke-width="0.6"/>
<line x1="396.1" y1="256.78529436560075" x2="397.5" y2="256.78529436560075" stroke="#444" stroke-width="0.6"/>
<line x1="396.1" y1="255.14509801965073" x2="397.5" y2="255.14509801965073" stroke="#444" stroke-width="0.6"/>
<line x1="396.1" y1="253.72429531869741" x2="397.5" y2="253.72429531869741" stroke="#444" stroke-width="0.6"/>
<line x1="396.1" y1="252.47105851873656" x2="397.5" y2="252.47105851873656" stroke="#444" stroke-width="0.6"/>
<line x1="396.1" y1="306.96500000000003" x2="397.5" y2="306.96500000000003" stroke="#444" stroke-width="0.6"/>
<line x1="396.1" y1="311.375" x2="397.5" y2="311.375" stroke="#444" stroke-width="0.6"/>
<line x1="396.1" y1="315.785" x2="397.5" y2="315.785" stroke="#444" stroke-width="0.6"/>
<line x1="395.0" y1="321.42" x2="397.5" y2="321.42" stroke="#111" stroke-width="1.0"/>
<line x1="395.0" y1="324.36" x2="397.5" y2="324.36" stroke="#111" stroke-width="1.0"/>
<line x1="395.0" y1="327.3" x2="397.5" y2="327.3" stroke="#111" stroke-width="1.0"/>
<line x1="395.0" y1="330.24" x2="397.5" y2="330.24" stroke="#111" stroke-width="1.0"/>
<line x1="413.99" y1="342" x2="413.99" y2="344.4" stroke="#222" stroke-width="0.8"/>
<text x="413.99" y="350.5" font-size="5" text-anchor="middle" fill="#222">0</text>
<line x1="439.695" y1="342" x2="439.695" y2="344.4" stroke="#222" stroke-width="0.8"/>
<text x="439.695" y="353.5" font-size="5.1" text-anchor="middle" fill="#222">10<tspan font-size="3.6" dy="-2.4">3</tspan></text>
<line x1="463.46000000000004" y1="342" x2="463.46000000000004" y2="344.4" stroke="#222" stroke-width="0.8"/>
<text x="463.46000000000004" y="353.5" font-size="5.1" text-anchor="middle" fill="#222">10<tspan font-size="3.6" dy="-2.4">4</tspan></text>
<line x1="486.74" y1="342" x2="486.74" y2="344.4" stroke="#222" stroke-width="0.8"/>
<text x="486.74" y="353.5" font-size="5.1" text-anchor="middle" fill="#222">10<tspan font-size="3.6" dy="-2.4">5</tspan></text>
<rect x="409.99" y="342.3" width="7" height="2" fill="#111"/>
<line x1="446.84897784695454" y1="342" x2="446.84897784695454" y2="343.3" stroke="#444" stroke-width="0.6"/>
<line x1="451.0337866184128" y1="342" x2="451.0337866184128" y2="343.3" stroke="#444" stroke-width="0.6"/>
<line x1="454.00295569390903" y1="342" x2="454.00295569390903" y2="343.3" stroke="#444" stroke-width="0.6"/>
<line x1="456.3060221530455" y1="342" x2="456.3060221530455" y2="343.3" stroke="#444" stroke-width="0.6"/>
<line x1="458.1877644653673" y1="342" x2="458.1877644653673" y2="343.3" stroke="#444" stroke-width="0.6"/>
<line x1="459.77875492093887" y1="342" x2="459.77875492093887" y2="343.3" stroke="#444" stroke-width="0.6"/>
<line x1="461.1569335408636" y1="342" x2="461.1569335408636" y2="343.3" stroke="#444" stroke-width="0.6"/>
<line x1="462.3725732368256" y1="342" x2="462.3725732368256" y2="343.3" stroke="#444" stroke-width="0.6"/>
<line x1="470.4679782990575" y1="342" x2="470.4679782990575" y2="343.3" stroke="#444" stroke-width="0.6"/>
<line x1="474.5673828098738" y1="342" x2="474.5673828098738" y2="343.3" stroke="#444" stroke-width="0.6"/>
<line x1="477.475956598115" y1="342" x2="477.475956598115" y2="343.3" stroke="#444" stroke-width="0.6"/>
<line x1="479.73202170094254" y1="342" x2="479.73202170094254" y2="343.3" stroke="#444" stroke-width="0.6"/>
<line x1="481.57536110893125" y1="342" x2="481.57536110893125" y2="343.3" stroke="#444" stroke-width="0.6"/>
<line x1="483.1338823715319" y1="342" x2="483.1338823715319" y2="343.3" stroke="#444" stroke-width="0.6"/>
<line x1="484.48393489717245" y1="342" x2="484.48393489717245" y2="343.3" stroke="#444" stroke-width="0.6"/>
<line x1="485.6747656197475" y1="342" x2="485.6747656197475" y2="343.3" stroke="#444" stroke-width="0.6"/>
<line x1="432.54102215304545" y1="342" x2="432.54102215304545" y2="343.3" stroke="#444" stroke-width="0.6"/>
<line x1="428.35621338158717" y1="342" x2="428.35621338158717" y2="343.3" stroke="#444" stroke-width="0.6"/>
<line x1="425.38704430609096" y1="342" x2="425.38704430609096" y2="343.3" stroke="#444" stroke-width="0.6"/>
<line x1="423.0839778469545" y1="342" x2="423.0839778469545" y2="343.3" stroke="#444" stroke-width="0.6"/>
<line x1="421.2022355346327" y1="342" x2="421.2022355346327" y2="343.3" stroke="#444" stroke-width="0.6"/>
<line x1="419.6112450790611" y1="342" x2="419.6112450790611" y2="343.3" stroke="#444" stroke-width="0.6"/>
<line x1="418.2330664591364" y1="342" x2="418.2330664591364" y2="343.3" stroke="#444" stroke-width="0.6"/>
<line x1="493.89397784695456" y1="342" x2="493.89397784695456" y2="343.3" stroke="#444" stroke-width="0.6"/>
<text x="2" y="13.7" font-size="17.5" font-weight="bold">A</text>
<text x="197.8" y="13.5" font-size="16">Lin-</text>
<text x="313.7" y="13.5" font-size="16">LSK</text>
<text x="434.5" y="13.5" font-size="16.5">LK</text>
<text x="0" y="0" font-size="14.3" font-style="italic" transform="translate(23.6,85.5) rotate(-90)">Gfi-1<tspan font-size="10" dy="-3.5">+/+</tspan></text>
<text x="0" y="0" font-size="14.5" font-style="italic" transform="translate(24,195) rotate(-90)">Gfi-1<tspan font-size="10" dy="-3.5"> -/-</tspan></text>
<text x="0" y="0" font-size="14" font-style="italic" transform="translate(25,330) rotate(-90)">Gfi-1<tspan font-size="10" dy="-4.5">-/-</tspan><tspan dy="4.5">;Id2</tspan><tspan font-size="10" dy="-4.5">+/-</tspan></text>
<line x1="75.5" y1="362" x2="75.5" y2="413" stroke="#666" stroke-width="1.0"/>
<line x1="75.5" y1="413" x2="125.5" y2="413" stroke="#666" stroke-width="1.0"/>
<path d="M74.1,363 L75.5,360 L76.9,363 Z" fill="#444"/>
<path d="M124.5,411.6 L127.5,413 L124.5,414.4 Z" fill="#444"/>
<text x="0" y="0" font-size="14.2" transform="translate(70,401.5) rotate(-90)">SSC</text>
<text x="45" y="426.5" font-size="14.2">Lineage Markers</text>
<line x1="187.5" y1="361" x2="187.5" y2="411.5" stroke="#666" stroke-width="1.0"/>
<line x1="187.5" y1="411.5" x2="238" y2="411.5" stroke="#666" stroke-width="1.0"/>
<path d="M186.1,362 L187.5,359 L188.9,362 Z" fill="#444"/>
<path d="M237,410.1 L240,411.5 L237,412.9 Z" fill="#444"/>
<text x="0" y="0" font-size="14.2" transform="translate(181.8,400.5) rotate(-90)">c-Kit</text>
<text x="194.5" y="426" font-size="14.2">Sca-1</text>
<line x1="303.3" y1="361" x2="303.3" y2="411.6" stroke="#666" stroke-width="1.0"/>
<line x1="303.3" y1="411.6" x2="353" y2="411.6" stroke="#666" stroke-width="1.0"/>
<path d="M301.90000000000003,362 L303.3,359 L304.7,362 Z" fill="#444"/>
<path d="M352,410.20000000000005 L355,411.6 L352,413.0 Z" fill="#444"/>
<text x="0" y="0" font-size="14.2" transform="translate(298.6,400) rotate(-90)">Flk2</text>
<text x="309.5" y="424" font-size="14.2">CD34</text>
<line x1="418.5" y1="361" x2="418.5" y2="412.7" stroke="#666" stroke-width="1.0"/>
<line x1="418.5" y1="412.7" x2="468" y2="412.7" stroke="#666" stroke-width="1.0"/>
<path d="M417.1,362 L418.5,359 L419.9,362 Z" fill="#444"/>
<path d="M467,411.3 L470,412.7 L467,414.09999999999997 Z" fill="#444"/>
<text x="0" y="0" font-size="14.2" transform="translate(412.4,413.5) rotate(-90)">FcR&#947;II/III</text>
<text x="424.5" y="428.8" font-size="14.2">CD34</text>
<text x="0.5" y="460" font-size="17.5" font-weight="bold">B</text>
<text x="140.2" y="460.4" font-size="17.5" font-weight="bold">C</text>
<text x="260.5" y="459.8" font-size="17.5" font-weight="bold">D</text>
<text x="-0.3" y="627.6" font-size="17.5" font-weight="bold">E</text>
<text x="173.6" y="627.6" font-size="17.5" font-weight="bold">F</text>
<text x="341" y="627.6" font-size="17.5" font-weight="bold">G</text>
<text x="45.5" y="470" font-size="13.8">Lin- Cells</text>
<text x="184" y="469.5" font-size="13.8">LK Cells</text>
<text x="307" y="469.5" font-size="13.8">LSK Cells</text>
<line x1="35" y1="472" x2="35" y2="581" stroke="#a0a0a0" stroke-width="1"/>
<line x1="35" y1="581" x2="117.5" y2="581" stroke="#a0a0a0" stroke-width="1"/>
<line x1="33" y1="581.0" x2="35" y2="581.0" stroke="#a0a0a0" stroke-width="1"/>
<text x="32.5" y="584.1" font-size="8.5" text-anchor="end" fill="#111">0</text>
<line x1="33" y1="559.3" x2="35" y2="559.3" stroke="#a0a0a0" stroke-width="1"/>
<text x="32.5" y="562.4" font-size="8.5" text-anchor="end" fill="#111">1</text>
<line x1="33" y1="537.6" x2="35" y2="537.6" stroke="#a0a0a0" stroke-width="1"/>
<text x="32.5" y="540.7" font-size="8.5" text-anchor="end" fill="#111">2</text>
<line x1="33" y1="515.9" x2="35" y2="515.9" stroke="#a0a0a0" stroke-width="1"/>
<text x="32.5" y="519.0" font-size="8.5" text-anchor="end" fill="#111">3</text>
<line x1="33" y1="494.2" x2="35" y2="494.2" stroke="#a0a0a0" stroke-width="1"/>
<text x="32.5" y="497.3" font-size="8.5" text-anchor="end" fill="#111">4</text>
<line x1="33" y1="472.5" x2="35" y2="472.5" stroke="#a0a0a0" stroke-width="1"/>
<text x="32.5" y="475.6" font-size="8.5" text-anchor="end" fill="#111">5</text>
<rect x="49" y="500" width="18.5" height="81" fill="#999999"/>
<rect x="67.5" y="542" width="17.5" height="39" fill="#333333"/>
<rect x="85" y="540" width="19" height="41" fill="#5a5a5a"/>
<line x1="58" y1="493" x2="58" y2="506" stroke="#111" stroke-width="0.9"/>
<line x1="56.2" y1="493" x2="59.8" y2="493" stroke="#111" stroke-width="0.9"/>
<line x1="56.2" y1="506" x2="59.8" y2="506" stroke="#111" stroke-width="0.9"/>
<line x1="76.5" y1="536" x2="76.5" y2="547.5" stroke="#111" stroke-width="0.9"/>
<line x1="74.7" y1="536" x2="78.3" y2="536" stroke="#111" stroke-width="0.9"/>
<line x1="74.7" y1="547.5" x2="78.3" y2="547.5" stroke="#111" stroke-width="0.9"/>
<line x1="94.5" y1="534" x2="94.5" y2="547.5" stroke="#111" stroke-width="0.9"/>
<line x1="92.7" y1="534" x2="96.3" y2="534" stroke="#111" stroke-width="0.9"/>
<line x1="92.7" y1="547.5" x2="96.3" y2="547.5" stroke="#111" stroke-width="0.9"/>
<text x="0" y="0" font-size="10.55" transform="translate(20,584.8) rotate(-90)">Percentage of LSM BMC</text>
<line x1="170" y1="471" x2="170" y2="582" stroke="#a0a0a0" stroke-width="1"/>
<line x1="170" y1="582" x2="252.5" y2="582" stroke="#a0a0a0" stroke-width="1"/>
<line x1="168" y1="582.0" x2="170" y2="582.0" stroke="#a0a0a0" stroke-width="1"/>
<text x="167.5" y="585.1" font-size="8.5" text-anchor="end" fill="#111">0</text>
<line x1="168" y1="563.5" x2="170" y2="563.5" stroke="#a0a0a0" stroke-width="1"/>
<text x="167.5" y="566.6" font-size="8.5" text-anchor="end" fill="#111">5</text>
<line x1="168" y1="545.0" x2="170" y2="545.0" stroke="#a0a0a0" stroke-width="1"/>
<text x="167.5" y="548.1" font-size="8.5" text-anchor="end" fill="#111">10</text>
<line x1="168" y1="526.5" x2="170" y2="526.5" stroke="#a0a0a0" stroke-width="1"/>
<text x="167.5" y="529.6" font-size="8.5" text-anchor="end" fill="#111">15</text>
<line x1="168" y1="508.0" x2="170" y2="508.0" stroke="#a0a0a0" stroke-width="1"/>
<text x="167.5" y="511.1" font-size="8.5" text-anchor="end" fill="#111">20</text>
<line x1="168" y1="489.5" x2="170" y2="489.5" stroke="#a0a0a0" stroke-width="1"/>
<text x="167.5" y="492.6" font-size="8.5" text-anchor="end" fill="#111">25</text>
<line x1="168" y1="471.0" x2="170" y2="471.0" stroke="#a0a0a0" stroke-width="1"/>
<text x="167.5" y="474.1" font-size="8.5" text-anchor="end" fill="#111">30</text>
<rect x="185" y="480.5" width="18" height="101.5" fill="#999999"/>
<rect x="203" y="504.5" width="17.5" height="77.5" fill="#333333"/>
<rect x="220.5" y="492.5" width="18.5" height="89.5" fill="#5a5a5a"/>
<line x1="194" y1="479" x2="194" y2="482.5" stroke="#111" stroke-width="0.9"/>
<line x1="192.2" y1="479" x2="195.8" y2="479" stroke="#111" stroke-width="0.9"/>
<line x1="192.2" y1="482.5" x2="195.8" y2="482.5" stroke="#111" stroke-width="0.9"/>
<line x1="212" y1="503.5" x2="212" y2="506" stroke="#111" stroke-width="0.9"/>
<line x1="210.2" y1="503.5" x2="213.8" y2="503.5" stroke="#111" stroke-width="0.9"/>
<line x1="210.2" y1="506" x2="213.8" y2="506" stroke="#111" stroke-width="0.9"/>
<line x1="230" y1="491" x2="230" y2="494" stroke="#111" stroke-width="0.9"/>
<line x1="228.2" y1="491" x2="231.8" y2="491" stroke="#111" stroke-width="0.9"/>
<line x1="228.2" y1="494" x2="231.8" y2="494" stroke="#111" stroke-width="0.9"/>
<text x="0" y="0" font-size="10.4" transform="translate(153,582.5) rotate(-90)">Percentage of Lin- Cells</text>
<line x1="287" y1="476" x2="287" y2="582" stroke="#a0a0a0" stroke-width="1"/>
<line x1="287" y1="582" x2="510" y2="582" stroke="#a0a0a0" stroke-width="1"/>
<line x1="285" y1="582.0" x2="287" y2="582.0" stroke="#a0a0a0" stroke-width="1"/>
<text x="284.5" y="585.1" font-size="8.5" text-anchor="end" fill="#111">0</text>
<line x1="285" y1="568.8" x2="287" y2="568.8" stroke="#a0a0a0" stroke-width="1"/>
<text x="284.5" y="571.9" font-size="8.5" text-anchor="end" fill="#111">2</text>
<line x1="285" y1="555.6" x2="287" y2="555.6" stroke="#a0a0a0" stroke-width="1"/>
<text x="284.5" y="558.7" font-size="8.5" text-anchor="end" fill="#111">4</text>
<line x1="285" y1="542.4" x2="287" y2="542.4" stroke="#a0a0a0" stroke-width="1"/>
<text x="284.5" y="545.5" font-size="8.5" text-anchor="end" fill="#111">6</text>
<line x1="285" y1="529.2" x2="287" y2="529.2" stroke="#a0a0a0" stroke-width="1"/>
<text x="284.5" y="532.3000000000001" font-size="8.5" text-anchor="end" fill="#111">8</text>
<line x1="285" y1="516.0" x2="287" y2="516.0" stroke="#a0a0a0" stroke-width="1"/>
<text x="284.5" y="519.1" font-size="8.5" text-anchor="end" fill="#111">10</text>
<line x1="285" y1="502.8" x2="287" y2="502.8" stroke="#a0a0a0" stroke-width="1"/>
<text x="284.5" y="505.90000000000003" font-size="8.5" text-anchor="end" fill="#111">12</text>
<line x1="285" y1="489.6" x2="287" y2="489.6" stroke="#a0a0a0" stroke-width="1"/>
<text x="284.5" y="492.70000000000005" font-size="8.5" text-anchor="end" fill="#111">14</text>
<line x1="285" y1="476.4" x2="287" y2="476.4" stroke="#a0a0a0" stroke-width="1"/>
<text x="284.5" y="479.5" font-size="8.5" text-anchor="end" fill="#111">16</text>
<line x1="361" y1="582" x2="361" y2="584" stroke="#a0a0a0" stroke-width="1"/>
<line x1="434" y1="582" x2="434" y2="584" stroke="#a0a0a0" stroke-width="1"/>
<rect x="300" y="576" width="16" height="6" fill="#999999"/>
<rect x="316" y="580.8" width="17" height="1.2000000000000455" fill="#333333"/>
<rect x="333" y="581.5" width="17" height="0.5" fill="#5a5a5a"/>
<rect x="373" y="484.5" width="16" height="97.5" fill="#999999"/>
<rect x="389" y="539" width="16" height="43" fill="#333333"/>
<rect x="405" y="517" width="16" height="65" fill="#5a5a5a"/>
<rect x="445.5" y="512" width="15.5" height="70" fill="#999999"/>
<rect x="461" y="573" width="16.5" height="9" fill="#333333"/>
<rect x="477.5" y="574" width="16.5" height="8" fill="#5a5a5a"/>
<line x1="308" y1="574.5" x2="308" y2="578" stroke="#111" stroke-width="0.9"/>
<line x1="306.2" y1="574.5" x2="309.8" y2="574.5" stroke="#111" stroke-width="0.9"/>
<line x1="306.2" y1="578" x2="309.8" y2="578" stroke="#111" stroke-width="0.9"/>
<line x1="324.5" y1="576" x2="324.5" y2="582" stroke="#111" stroke-width="0.9"/>
<line x1="322.7" y1="576" x2="326.3" y2="576" stroke="#111" stroke-width="0.9"/>
<line x1="322.7" y1="582" x2="326.3" y2="582" stroke="#111" stroke-width="0.9"/>
<line x1="341.5" y1="580" x2="341.5" y2="582" stroke="#111" stroke-width="0.9"/>
<line x1="339.7" y1="580" x2="343.3" y2="580" stroke="#111" stroke-width="0.9"/>
<line x1="339.7" y1="582" x2="343.3" y2="582" stroke="#111" stroke-width="0.9"/>
<line x1="381" y1="484" x2="381" y2="485.5" stroke="#111" stroke-width="0.9"/>
<line x1="379.2" y1="484" x2="382.8" y2="484" stroke="#111" stroke-width="0.9"/>
<line x1="379.2" y1="485.5" x2="382.8" y2="485.5" stroke="#111" stroke-width="0.9"/>
<line x1="397" y1="538.5" x2="397" y2="539.5" stroke="#111" stroke-width="0.9"/>
<line x1="395.2" y1="538.5" x2="398.8" y2="538.5" stroke="#111" stroke-width="0.9"/>
<line x1="395.2" y1="539.5" x2="398.8" y2="539.5" stroke="#111" stroke-width="0.9"/>
<line x1="413" y1="516.5" x2="413" y2="517.5" stroke="#111" stroke-width="0.9"/>
<line x1="411.2" y1="516.5" x2="414.8" y2="516.5" stroke="#111" stroke-width="0.9"/>
<line x1="411.2" y1="517.5" x2="414.8" y2="517.5" stroke="#111" stroke-width="0.9"/>
<line x1="453" y1="506" x2="453" y2="519" stroke="#111" stroke-width="0.9"/>
<line x1="451.2" y1="506" x2="454.8" y2="506" stroke="#111" stroke-width="0.9"/>
<line x1="451.2" y1="519" x2="454.8" y2="519" stroke="#111" stroke-width="0.9"/>
<line x1="469" y1="564" x2="469" y2="581" stroke="#111" stroke-width="0.9"/>
<line x1="467.2" y1="564" x2="470.8" y2="564" stroke="#111" stroke-width="0.9"/>
<line x1="467.2" y1="581" x2="470.8" y2="581" stroke="#111" stroke-width="0.9"/>
<line x1="485.5" y1="567.5" x2="485.5" y2="580" stroke="#111" stroke-width="0.9"/>
<line x1="483.7" y1="567.5" x2="487.3" y2="567.5" stroke="#111" stroke-width="0.9"/>
<line x1="483.7" y1="580" x2="487.3" y2="580" stroke="#111" stroke-width="0.9"/>
<text x="319" y="596.5" font-size="10.5" text-anchor="middle">LT-HSC</text>
<text x="396.5" y="596.5" font-size="10.5" text-anchor="middle">ST-HSC</text>
<text x="465" y="596.5" font-size="10.5" text-anchor="middle">MPP</text>
<line x1="393" y1="513" x2="416" y2="513" stroke="#000" stroke-width="1.5"/>
<text x="403.4" y="512.5" font-size="13" font-weight="bold" text-anchor="middle">*</text>
<text x="0" y="0" font-size="12.2" transform="translate(271.5,580.5) rotate(-90)">Total Number x 10<tspan dy="-4.5" font-size="7.5">3</tspan></text>
<rect x="437.7" y="460" width="7.3" height="7.3" fill="#999999"/>
<rect x="437.7" y="473.7" width="7.3" height="7.3" fill="#333333"/>
<rect x="437.7" y="487" width="7.3" height="7.3" fill="#5a5a5a"/>
<text x="448.8" y="467.3" font-size="11.7" font-style="italic">Gfi-1<tspan dy="-4" font-size="8.8"> +/+</tspan></text>
<text x="448.8" y="480.8" font-size="11.7" font-style="italic">Gfi-1<tspan dy="-4" font-size="8.8"> -/-</tspan></text>
<text x="448.8" y="494.3" font-size="11.7" font-style="italic">Gfi-1<tspan dy="-4" font-size="8.8">-/-</tspan><tspan dy="4">;Id2</tspan><tspan dy="-4" font-size="8.8">+/-</tspan></text>
<line x1="27" y1="637" x2="27" y2="744.5" stroke="#a0a0a0" stroke-width="1"/>
<line x1="27" y1="744.5" x2="170" y2="744.5" stroke="#a0a0a0" stroke-width="1"/>
<line x1="25" y1="744.5" x2="27" y2="744.5" stroke="#a0a0a0" stroke-width="1"/>
<text x="24.5" y="747.6" font-size="8.5" text-anchor="end" fill="#111">0</text>
<line x1="25" y1="732.6111111111111" x2="27" y2="732.6111111111111" stroke="#a0a0a0" stroke-width="1"/>
<text x="24.5" y="735.7111111111111" font-size="8.5" text-anchor="end" fill="#111">5</text>
<line x1="25" y1="720.7222222222222" x2="27" y2="720.7222222222222" stroke="#a0a0a0" stroke-width="1"/>
<text x="24.5" y="723.8222222222222" font-size="8.5" text-anchor="end" fill="#111">10</text>
<line x1="25" y1="708.8333333333334" x2="27" y2="708.8333333333334" stroke="#a0a0a0" stroke-width="1"/>
<text x="24.5" y="711.9333333333334" font-size="8.5" text-anchor="end" fill="#111">15</text>
<line x1="25" y1="696.9444444444445" x2="27" y2="696.9444444444445" stroke="#a0a0a0" stroke-width="1"/>
<text x="24.5" y="700.0444444444445" font-size="8.5" text-anchor="end" fill="#111">20</text>
<line x1="25" y1="685.0555555555555" x2="27" y2="685.0555555555555" stroke="#a0a0a0" stroke-width="1"/>
<text x="24.5" y="688.1555555555556" font-size="8.5" text-anchor="end" fill="#111">25</text>
<line x1="25" y1="673.1666666666666" x2="27" y2="673.1666666666666" stroke="#a0a0a0" stroke-width="1"/>
<text x="24.5" y="676.2666666666667" font-size="8.5" text-anchor="end" fill="#111">30</text>
<line x1="25" y1="661.2777777777778" x2="27" y2="661.2777777777778" stroke="#a0a0a0" stroke-width="1"/>
<text x="24.5" y="664.3777777777779" font-size="8.5" text-anchor="end" fill="#111">35</text>
<line x1="25" y1="649.3888888888889" x2="27" y2="649.3888888888889" stroke="#a0a0a0" stroke-width="1"/>
<text x="24.5" y="652.4888888888889" font-size="8.5" text-anchor="end" fill="#111">40</text>
<line x1="25" y1="637.5" x2="27" y2="637.5" stroke="#a0a0a0" stroke-width="1"/>
<text x="24.5" y="640.6" font-size="8.5" text-anchor="end" fill="#111">45</text>
<rect x="35" y="689" width="11" height="55.5" fill="#999999"/>
<rect x="46" y="664" width="9.5" height="80.5" fill="#333333"/>
<rect x="55.5" y="685.5" width="11.5" height="59.0" fill="#5a5a5a"/>
<rect x="83" y="648" width="11" height="96.5" fill="#999999"/>
<rect x="94" y="700" width="10" height="44.5" fill="#333333"/>
<rect x="104" y="675.5" width="11" height="69.0" fill="#5a5a5a"/>
<rect x="131" y="714.5" width="10.699999999999989" height="30.0" fill="#999999"/>
<rect x="141.7" y="680" width="10.300000000000011" height="64.5" fill="#333333"/>
<rect x="152" y="686" width="10.5" height="58.5" fill="#5a5a5a"/>
<line x1="40.5" y1="686" x2="40.5" y2="692.5" stroke="#111" stroke-width="0.9"/>
<line x1="38.7" y1="686" x2="42.3" y2="686" stroke="#111" stroke-width="0.9"/>
<line x1="38.7" y1="692.5" x2="42.3" y2="692.5" stroke="#111" stroke-width="0.9"/>
<line x1="50.7" y1="652.5" x2="50.7" y2="676" stroke="#111" stroke-width="0.9"/>
<line x1="48.900000000000006" y1="652.5" x2="52.5" y2="652.5" stroke="#111" stroke-width="0.9"/>
<line x1="48.900000000000006" y1="676" x2="52.5" y2="676" stroke="#111" stroke-width="0.9"/>
<line x1="61" y1="677" x2="61" y2="694.5" stroke="#111" stroke-width="0.9"/>
<line x1="59.2" y1="677" x2="62.8" y2="677" stroke="#111" stroke-width="0.9"/>
<line x1="59.2" y1="694.5" x2="62.8" y2="694.5" stroke="#111" stroke-width="0.9"/>
<line x1="88.5" y1="639.5" x2="88.5" y2="656" stroke="#111" stroke-width="0.9"/>
<line x1="86.7" y1="639.5" x2="90.3" y2="639.5" stroke="#111" stroke-width="0.9"/>
<line x1="86.7" y1="656" x2="90.3" y2="656" stroke="#111" stroke-width="0.9"/>
<line x1="99" y1="690" x2="99" y2="710" stroke="#111" stroke-width="0.9"/>
<line x1="97.2" y1="690" x2="100.8" y2="690" stroke="#111" stroke-width="0.9"/>
<line x1="97.2" y1="710" x2="100.8" y2="710" stroke="#111" stroke-width="0.9"/>
<line x1="109.5" y1="674.5" x2="109.5" y2="676.5" stroke="#111" stroke-width="0.9"/>
<line x1="107.7" y1="674.5" x2="111.3" y2="674.5" stroke="#111" stroke-width="0.9"/>
<line x1="107.7" y1="676.5" x2="111.3" y2="676.5" stroke="#111" stroke-width="0.9"/>
<line x1="136.3" y1="707" x2="136.3" y2="721.6" stroke="#111" stroke-width="0.9"/>
<line x1="134.5" y1="707" x2="138.10000000000002" y2="707" stroke="#111" stroke-width="0.9"/>
<line x1="134.5" y1="721.6" x2="138.10000000000002" y2="721.6" stroke="#111" stroke-width="0.9"/>
<line x1="146.8" y1="671.7" x2="146.8" y2="687.5" stroke="#111" stroke-width="0.9"/>
<line x1="145.0" y1="671.7" x2="148.60000000000002" y2="671.7" stroke="#111" stroke-width="0.9"/>
<line x1="145.0" y1="687.5" x2="148.60000000000002" y2="687.5" stroke="#111" stroke-width="0.9"/>
<line x1="157.2" y1="684" x2="157.2" y2="688" stroke="#111" stroke-width="0.9"/>
<line x1="155.39999999999998" y1="684" x2="159.0" y2="684" stroke="#111" stroke-width="0.9"/>
<line x1="155.39999999999998" y1="688" x2="159.0" y2="688" stroke="#111" stroke-width="0.9"/>
<text x="51" y="757.5" font-size="10.5" text-anchor="middle">MEP</text>
<text x="97.5" y="757.5" font-size="10.5" text-anchor="middle">CMP</text>
<text x="145.7" y="757.5" font-size="10.5" text-anchor="middle">GMP</text>
<line x1="48.8" y1="649" x2="63.8" y2="649" stroke="#000" stroke-width="1.5"/>
<text x="56.3" y="649.2" font-size="7.5" font-weight="bold" text-anchor="middle">*</text>
<line x1="95.5" y1="671.7" x2="110.2" y2="671.7" stroke="#000" stroke-width="1.5"/>
<text x="101.5" y="670" font-size="10.5" font-weight="bold" text-anchor="middle">*</text>
<text x="0" y="0" font-size="10.7" transform="translate(9.8,745.5) rotate(-90)">Percentage of LK Cells</text>
<line x1="200" y1="633" x2="200" y2="744" stroke="#a0a0a0" stroke-width="1"/>
<line x1="200" y1="744" x2="339.5" y2="744" stroke="#a0a0a0" stroke-width="1"/>
<line x1="198" y1="744.0" x2="200" y2="744.0" stroke="#a0a0a0" stroke-width="1"/>
<text x="197.5" y="747.1" font-size="8.5" text-anchor="end" fill="#111">0</text>
<line x1="198" y1="730.2" x2="200" y2="730.2" stroke="#a0a0a0" stroke-width="1"/>
<text x="197.5" y="733.3000000000001" font-size="8.5" text-anchor="end" fill="#111">20</text>
<line x1="198" y1="716.4" x2="200" y2="716.4" stroke="#a0a0a0" stroke-width="1"/>
<text x="197.5" y="719.5" font-size="8.5" text-anchor="end" fill="#111">40</text>
<line x1="198" y1="702.6" x2="200" y2="702.6" stroke="#a0a0a0" stroke-width="1"/>
<text x="197.5" y="705.7" font-size="8.5" text-anchor="end" fill="#111">60</text>
<line x1="198" y1="688.8" x2="200" y2="688.8" stroke="#a0a0a0" stroke-width="1"/>
<text x="197.5" y="691.9" font-size="8.5" text-anchor="end" fill="#111">80</text>
<line x1="198" y1="675.0" x2="200" y2="675.0" stroke="#a0a0a0" stroke-width="1"/>
<text x="197.5" y="678.1" font-size="8.5" text-anchor="end" fill="#111">100</text>
<line x1="198" y1="661.2" x2="200" y2="661.2" stroke="#a0a0a0" stroke-width="1"/>
<text x="197.5" y="664.3000000000001" font-size="8.5" text-anchor="end" fill="#111">120</text>
<line x1="198" y1="647.4" x2="200" y2="647.4" stroke="#a0a0a0" stroke-width="1"/>
<text x="197.5" y="650.5" font-size="8.5" text-anchor="end" fill="#111">140</text>
<line x1="198" y1="633.6" x2="200" y2="633.6" stroke="#a0a0a0" stroke-width="1"/>
<text x="197.5" y="636.7" font-size="8.5" text-anchor="end" fill="#111">160</text>
<line x1="245" y1="744" x2="245" y2="746" stroke="#a0a0a0" stroke-width="1"/>
<line x1="292.7" y1="744" x2="292.7" y2="746" stroke="#a0a0a0" stroke-width="1"/>
<rect x="208" y="689" width="10" height="55" fill="#999999"/>
<rect x="218" y="717" width="10" height="27" fill="#333333"/>
<rect x="228" y="716" width="10.75" height="28" fill="#5a5a5a"/>
<rect x="254" y="648" width="10.5" height="96" fill="#999999"/>
<rect x="264.5" y="729" width="10.0" height="15" fill="#333333"/>
<rect x="274.5" y="714.5" width="10.5" height="29.5" fill="#5a5a5a"/>
<rect x="300.8" y="713.8" width="10.0" height="30.200000000000045" fill="#999999"/>
<rect x="310.8" y="723" width="10.0" height="21" fill="#333333"/>
<rect x="320.8" y="719" width="10.699999999999989" height="25" fill="#5a5a5a"/>
<line x1="213" y1="679.5" x2="213" y2="697.5" stroke="#111" stroke-width="0.9"/>
<line x1="211.2" y1="679.5" x2="214.8" y2="679.5" stroke="#111" stroke-width="0.9"/>
<line x1="211.2" y1="697.5" x2="214.8" y2="697.5" stroke="#111" stroke-width="0.9"/>
<line x1="223" y1="705" x2="223" y2="727.5" stroke="#111" stroke-width="0.9"/>
<line x1="221.2" y1="705" x2="224.8" y2="705" stroke="#111" stroke-width="0.9"/>
<line x1="221.2" y1="727.5" x2="224.8" y2="727.5" stroke="#111" stroke-width="0.9"/>
<line x1="233.4" y1="712.5" x2="233.4" y2="719" stroke="#111" stroke-width="0.9"/>
<line x1="231.6" y1="712.5" x2="235.20000000000002" y2="712.5" stroke="#111" stroke-width="0.9"/>
<line x1="231.6" y1="719" x2="235.20000000000002" y2="719" stroke="#111" stroke-width="0.9"/>
<line x1="259.3" y1="644.5" x2="259.3" y2="652" stroke="#111" stroke-width="0.9"/>
<line x1="257.5" y1="644.5" x2="261.1" y2="644.5" stroke="#111" stroke-width="0.9"/>
<line x1="257.5" y1="652" x2="261.1" y2="652" stroke="#111" stroke-width="0.9"/>
<line x1="269.5" y1="727.5" x2="269.5" y2="731" stroke="#111" stroke-width="0.9"/>
<line x1="267.7" y1="727.5" x2="271.3" y2="727.5" stroke="#111" stroke-width="0.9"/>
<line x1="267.7" y1="731" x2="271.3" y2="731" stroke="#111" stroke-width="0.9"/>
<line x1="279.8" y1="712" x2="279.8" y2="717.5" stroke="#111" stroke-width="0.9"/>
<line x1="278.0" y1="712" x2="281.6" y2="712" stroke="#111" stroke-width="0.9"/>
<line x1="278.0" y1="717.5" x2="281.6" y2="717.5" stroke="#111" stroke-width="0.9"/>
<line x1="305.8" y1="710" x2="305.8" y2="717" stroke="#111" stroke-width="0.9"/>
<line x1="304.0" y1="710" x2="307.6" y2="710" stroke="#111" stroke-width="0.9"/>
<line x1="304.0" y1="717" x2="307.6" y2="717" stroke="#111" stroke-width="0.9"/>
<line x1="315.8" y1="718.5" x2="315.8" y2="726" stroke="#111" stroke-width="0.9"/>
<line x1="314.0" y1="718.5" x2="317.6" y2="718.5" stroke="#111" stroke-width="0.9"/>
<line x1="314.0" y1="726" x2="317.6" y2="726" stroke="#111" stroke-width="0.9"/>
<line x1="326.2" y1="715.7" x2="326.2" y2="721.8" stroke="#111" stroke-width="0.9"/>
<line x1="324.4" y1="715.7" x2="328.0" y2="715.7" stroke="#111" stroke-width="0.9"/>
<line x1="324.4" y1="721.8" x2="328.0" y2="721.8" stroke="#111" stroke-width="0.9"/>
<text x="223.3" y="756.5" font-size="10.5" text-anchor="middle">MEP</text>
<text x="269" y="756.5" font-size="10.5" text-anchor="middle">CMP</text>
<text x="316.3" y="756.5" font-size="10.5" text-anchor="middle">GMP</text>
<line x1="265.2" y1="707.3" x2="284.6" y2="707.3" stroke="#000" stroke-width="1.5"/>
<text x="274.65" y="704.9" font-size="8" font-weight="bold" text-anchor="middle">*</text>
<text x="0" y="0" font-size="11.8" transform="translate(183.8,739.5) rotate(-90)">Total Number x 10<tspan dy="-4.5" font-size="7.5">3</tspan></text>
<line x1="369.8" y1="631" x2="369.8" y2="741.2" stroke="#a0a0a0" stroke-width="1"/>
<line x1="369.8" y1="741.2" x2="518.6" y2="741.2" stroke="#a0a0a0" stroke-width="1"/>
<line x1="367.8" y1="741.2" x2="369.8" y2="741.2" stroke="#a0a0a0" stroke-width="1"/>
<text x="367.3" y="744.3000000000001" font-size="8.5" text-anchor="end" fill="#111">0</text>
<line x1="367.8" y1="728.9777777777779" x2="369.8" y2="728.9777777777779" stroke="#a0a0a0" stroke-width="1"/>
<text x="367.3" y="732.0777777777779" font-size="8.5" text-anchor="end" fill="#111">2</text>
<line x1="367.8" y1="716.7555555555556" x2="369.8" y2="716.7555555555556" stroke="#a0a0a0" stroke-width="1"/>
<text x="367.3" y="719.8555555555556" font-size="8.5" text-anchor="end" fill="#111">4</text>
<line x1="367.8" y1="704.5333333333334" x2="369.8" y2="704.5333333333334" stroke="#a0a0a0" stroke-width="1"/>
<text x="367.3" y="707.6333333333334" font-size="8.5" text-anchor="end" fill="#111">6</text>
<line x1="367.8" y1="692.3111111111111" x2="369.8" y2="692.3111111111111" stroke="#a0a0a0" stroke-width="1"/>
<text x="367.3" y="695.4111111111112" font-size="8.5" text-anchor="end" fill="#111">8</text>
<line x1="367.8" y1="680.088888888889" x2="369.8" y2="680.088888888889" stroke="#a0a0a0" stroke-width="1"/>
<text x="367.3" y="683.188888888889" font-size="8.5" text-anchor="end" fill="#111">10</text>
<line x1="367.8" y1="667.8666666666667" x2="369.8" y2="667.8666666666667" stroke="#a0a0a0" stroke-width="1"/>
<text x="367.3" y="670.9666666666667" font-size="8.5" text-anchor="end" fill="#111">12</text>
<line x1="367.8" y1="655.6444444444445" x2="369.8" y2="655.6444444444445" stroke="#a0a0a0" stroke-width="1"/>
<text x="367.3" y="658.7444444444445" font-size="8.5" text-anchor="end" fill="#111">14</text>
<line x1="367.8" y1="643.4222222222222" x2="369.8" y2="643.4222222222222" stroke="#a0a0a0" stroke-width="1"/>
<text x="367.3" y="646.5222222222222" font-size="8.5" text-anchor="end" fill="#111">16</text>
<line x1="367.8" y1="631.2" x2="369.8" y2="631.2" stroke="#a0a0a0" stroke-width="1"/>
<text x="367.3" y="634.3000000000001" font-size="8.5" text-anchor="end" fill="#111">18</text>
<line x1="406.5" y1="741.2" x2="406.5" y2="743.2" stroke="#a0a0a0" stroke-width="1"/>
<line x1="444.5" y1="741.2" x2="444.5" y2="743.2" stroke="#a0a0a0" stroke-width="1"/>
<line x1="481.6" y1="741.2" x2="481.6" y2="743.2" stroke="#a0a0a0" stroke-width="1"/>
<rect x="376" y="733" width="8.5" height="8.200000000000045" fill="#999999"/>
<rect x="384.5" y="740.4" width="8.0" height="0.8000000000000682" fill="#333333"/>
<rect x="392.5" y="740.4" width="7.5" height="0.8000000000000682" fill="#5a5a5a"/>
<rect x="413" y="723" width="9" height="18.200000000000045" fill="#999999"/>
<rect x="422" y="732" width="8" height="9.200000000000045" fill="#333333"/>
<rect x="430" y="732" width="8" height="9.200000000000045" fill="#5a5a5a"/>
<rect x="450.8" y="699" width="8.099999999999966" height="42.200000000000045" fill="#999999"/>
<rect x="458.9" y="734.6" width="8.100000000000023" height="6.600000000000023" fill="#333333"/>
<rect x="467" y="729.8" width="8.300000000000011" height="11.400000000000091" fill="#5a5a5a"/>
<rect x="487.8" y="641.2" width="8.199999999999989" height="100.0" fill="#999999"/>
<rect x="496" y="732.7" width="8.199999999999989" height="8.5" fill="#333333"/>
<rect x="504.2" y="732.7" width="8.099999999999966" height="8.5" fill="#5a5a5a"/>
<line x1="380.2" y1="732" x2="380.2" y2="734" stroke="#111" stroke-width="0.9"/>
<line x1="378.4" y1="732" x2="382.0" y2="732" stroke="#111" stroke-width="0.9"/>
<line x1="378.4" y1="734" x2="382.0" y2="734" stroke="#111" stroke-width="0.9"/>
<line x1="417.5" y1="720" x2="417.5" y2="725" stroke="#111" stroke-width="0.9"/>
<line x1="415.7" y1="720" x2="419.3" y2="720" stroke="#111" stroke-width="0.9"/>
<line x1="415.7" y1="725" x2="419.3" y2="725" stroke="#111" stroke-width="0.9"/>
<line x1="454.8" y1="693.2" x2="454.8" y2="705.7" stroke="#111" stroke-width="0.9"/>
<line x1="453.0" y1="693.2" x2="456.6" y2="693.2" stroke="#111" stroke-width="0.9"/>
<line x1="453.0" y1="705.7" x2="456.6" y2="705.7" stroke="#111" stroke-width="0.9"/>
<line x1="463" y1="733.5" x2="463" y2="735.5" stroke="#111" stroke-width="0.9"/>
<line x1="461.2" y1="733.5" x2="464.8" y2="733.5" stroke="#111" stroke-width="0.9"/>
<line x1="461.2" y1="735.5" x2="464.8" y2="735.5" stroke="#111" stroke-width="0.9"/>
<line x1="471.2" y1="727.5" x2="471.2" y2="731.5" stroke="#111" stroke-width="0.9"/>
<line x1="469.4" y1="727.5" x2="473.0" y2="727.5" stroke="#111" stroke-width="0.9"/>
<line x1="469.4" y1="731.5" x2="473.0" y2="731.5" stroke="#111" stroke-width="0.9"/>
<line x1="491.9" y1="638.3" x2="491.9" y2="644" stroke="#111" stroke-width="0.9"/>
<line x1="490.09999999999997" y1="638.3" x2="493.7" y2="638.3" stroke="#111" stroke-width="0.9"/>
<line x1="490.09999999999997" y1="644" x2="493.7" y2="644" stroke="#111" stroke-width="0.9"/>
<line x1="500" y1="731.5" x2="500" y2="734" stroke="#111" stroke-width="0.9"/>
<line x1="498.2" y1="731.5" x2="501.8" y2="731.5" stroke="#111" stroke-width="0.9"/>
<line x1="498.2" y1="734" x2="501.8" y2="734" stroke="#111" stroke-width="0.9"/>
<line x1="508.2" y1="731.5" x2="508.2" y2="734" stroke="#111" stroke-width="0.9"/>
<line x1="506.4" y1="731.5" x2="510.0" y2="731.5" stroke="#111" stroke-width="0.9"/>
<line x1="506.4" y1="734" x2="510.0" y2="734" stroke="#111" stroke-width="0.9"/>
<text x="386.3" y="752.8" font-size="10.5" text-anchor="middle">Dormant</text>
<text x="386.3" y="766.3" font-size="10.5" text-anchor="middle">LT-HSC</text>
<text x="425.3" y="752.8" font-size="10.5" text-anchor="middle">MPP</text>
<text x="425.7" y="766.3" font-size="10.5" text-anchor="middle">1/2</text>
<text x="463.7" y="753.8" font-size="10.5" text-anchor="middle">MPP</text>
<text x="463.8" y="766.3" font-size="10.5" text-anchor="middle">3</text>
<text x="499" y="753.8" font-size="10.5" text-anchor="middle">MPP</text>
<text x="499" y="766.3" font-size="10.5" text-anchor="middle">4</text>
<line x1="462" y1="727.6" x2="473.5" y2="727.6" stroke="#000" stroke-width="1.5"/>
<text x="467.4" y="725.6" font-size="8.5" font-weight="bold" text-anchor="middle">*</text>
<text x="0" y="0" font-size="11.6" transform="translate(357,739) rotate(-90)">Total Number x 10<tspan dy="-4" font-size="7.5">3</tspan></text>
</svg></body></html>
